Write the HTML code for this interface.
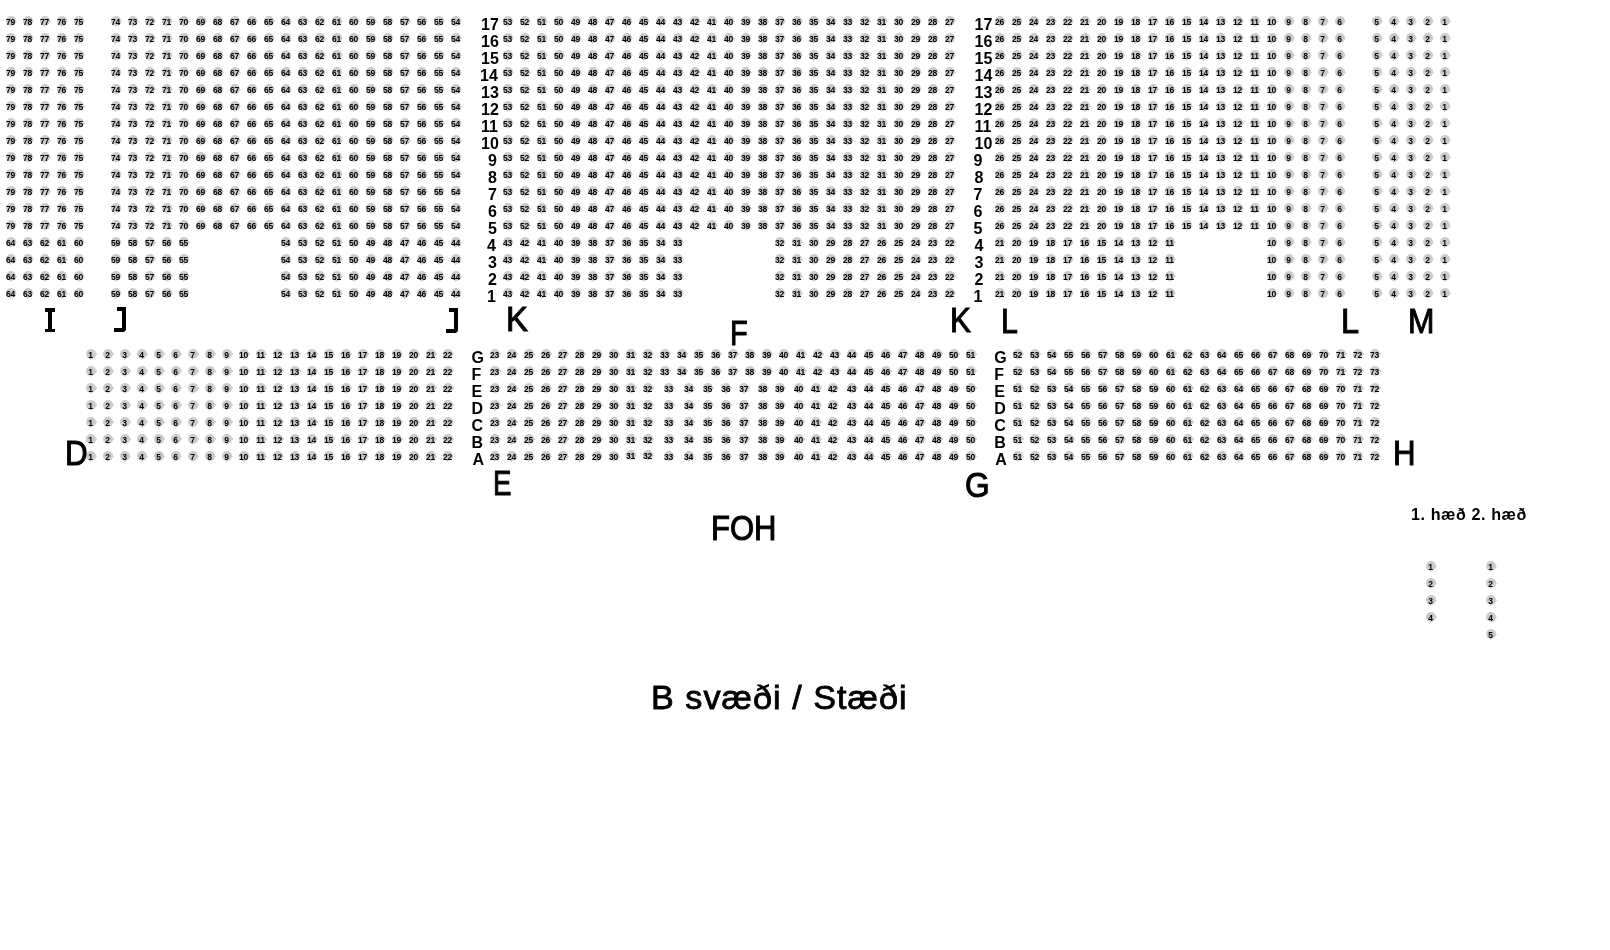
<!DOCTYPE html>
<html><head><meta charset="utf-8"><style>
html,body{margin:0;padding:0;background:#fff;width:1610px;height:950px;overflow:hidden;position:relative}
#w{position:absolute;left:0;top:0;width:1610px;height:950px;will-change:transform}
i{position:absolute;display:block;width:10px;height:10px;border-radius:50%;background:#cbcbcb;color:#000;font:bold 8.5px/12.3px "Liberation Sans",sans-serif;text-align:center;font-style:normal;letter-spacing:-0.3px;text-indent:-1.2px}
.t{position:absolute;font-family:"Liberation Sans",sans-serif;color:#000;white-space:nowrap;transform-origin:0 0}
.k{position:absolute;background:#000}
i:before,i:after{content:"";position:absolute;background:#d6d6d6}
i:before{left:4.2px;top:9.6px;width:1.2px;height:1.3px}
i:after{left:10px;top:4.75px;width:1px;height:1.3px}
.j{position:absolute;width:12px;height:25px;box-sizing:border-box;border-right:4px solid #000;border-bottom:4px solid #000;border-bottom-right-radius:4px}
</style></head><body><div id="w">
<i style="left:6.00px;top:15.85px">79</i><i style="left:23.00px;top:15.85px">78</i><i style="left:40.00px;top:15.85px">77</i><i style="left:57.00px;top:15.85px">76</i><i style="left:74.00px;top:15.85px">75</i><i style="left:111.00px;top:15.85px">74</i><i style="left:128.00px;top:15.85px">73</i><i style="left:145.00px;top:15.85px">72</i><i style="left:162.00px;top:15.85px">71</i><i style="left:179.00px;top:15.85px">70</i><i style="left:196.00px;top:15.85px">69</i><i style="left:213.00px;top:15.85px">68</i><i style="left:230.00px;top:15.85px">67</i><i style="left:247.00px;top:15.85px">66</i><i style="left:264.00px;top:15.85px">65</i><i style="left:281.00px;top:15.85px">64</i><i style="left:298.00px;top:15.85px">63</i><i style="left:315.00px;top:15.85px">62</i><i style="left:332.00px;top:15.85px">61</i><i style="left:349.00px;top:15.85px">60</i><i style="left:366.00px;top:15.85px">59</i><i style="left:383.00px;top:15.85px">58</i><i style="left:400.00px;top:15.85px">57</i><i style="left:417.00px;top:15.85px">56</i><i style="left:434.00px;top:15.85px">55</i><i style="left:451.00px;top:15.85px">54</i><i style="left:503.00px;top:15.85px">53</i><i style="left:520.00px;top:15.85px">52</i><i style="left:537.00px;top:15.85px">51</i><i style="left:554.00px;top:15.85px">50</i><i style="left:571.00px;top:15.85px">49</i><i style="left:588.00px;top:15.85px">48</i><i style="left:605.00px;top:15.85px">47</i><i style="left:622.00px;top:15.85px">46</i><i style="left:639.00px;top:15.85px">45</i><i style="left:656.00px;top:15.85px">44</i><i style="left:673.00px;top:15.85px">43</i><i style="left:690.00px;top:15.85px">42</i><i style="left:707.00px;top:15.85px">41</i><i style="left:724.00px;top:15.85px">40</i><i style="left:741.00px;top:15.85px">39</i><i style="left:758.00px;top:15.85px">38</i><i style="left:775.00px;top:15.85px">37</i><i style="left:792.00px;top:15.85px">36</i><i style="left:809.00px;top:15.85px">35</i><i style="left:826.00px;top:15.85px">34</i><i style="left:843.00px;top:15.85px">33</i><i style="left:860.00px;top:15.85px">32</i><i style="left:877.00px;top:15.85px">31</i><i style="left:894.00px;top:15.85px">30</i><i style="left:911.00px;top:15.85px">29</i><i style="left:928.00px;top:15.85px">28</i><i style="left:945.00px;top:15.85px">27</i><i style="left:995.00px;top:15.85px">26</i><i style="left:1012.00px;top:15.85px">25</i><i style="left:1029.00px;top:15.85px">24</i><i style="left:1046.00px;top:15.85px">23</i><i style="left:1063.00px;top:15.85px">22</i><i style="left:1080.00px;top:15.85px">21</i><i style="left:1097.00px;top:15.85px">20</i><i style="left:1114.00px;top:15.85px">19</i><i style="left:1131.00px;top:15.85px">18</i><i style="left:1148.00px;top:15.85px">17</i><i style="left:1165.00px;top:15.85px">16</i><i style="left:1182.00px;top:15.85px">15</i><i style="left:1199.00px;top:15.85px">14</i><i style="left:1216.00px;top:15.85px">13</i><i style="left:1233.00px;top:15.85px">12</i><i style="left:1250.00px;top:15.85px">11</i><i style="left:1267.00px;top:15.85px">10</i><i style="left:1284.00px;top:15.85px">9</i><i style="left:1301.00px;top:15.85px">8</i><i style="left:1318.00px;top:15.85px">7</i><i style="left:1335.00px;top:15.85px">6</i><i style="left:1372.00px;top:15.85px">5</i><i style="left:1389.00px;top:15.85px">4</i><i style="left:1406.00px;top:15.85px">3</i><i style="left:1423.00px;top:15.85px">2</i><i style="left:1440.00px;top:15.85px">1</i><i style="left:6.00px;top:32.85px">79</i><i style="left:23.00px;top:32.85px">78</i><i style="left:40.00px;top:32.85px">77</i><i style="left:57.00px;top:32.85px">76</i><i style="left:74.00px;top:32.85px">75</i><i style="left:111.00px;top:32.85px">74</i><i style="left:128.00px;top:32.85px">73</i><i style="left:145.00px;top:32.85px">72</i><i style="left:162.00px;top:32.85px">71</i><i style="left:179.00px;top:32.85px">70</i><i style="left:196.00px;top:32.85px">69</i><i style="left:213.00px;top:32.85px">68</i><i style="left:230.00px;top:32.85px">67</i><i style="left:247.00px;top:32.85px">66</i><i style="left:264.00px;top:32.85px">65</i><i style="left:281.00px;top:32.85px">64</i><i style="left:298.00px;top:32.85px">63</i><i style="left:315.00px;top:32.85px">62</i><i style="left:332.00px;top:32.85px">61</i><i style="left:349.00px;top:32.85px">60</i><i style="left:366.00px;top:32.85px">59</i><i style="left:383.00px;top:32.85px">58</i><i style="left:400.00px;top:32.85px">57</i><i style="left:417.00px;top:32.85px">56</i><i style="left:434.00px;top:32.85px">55</i><i style="left:451.00px;top:32.85px">54</i><i style="left:503.00px;top:32.85px">53</i><i style="left:520.00px;top:32.85px">52</i><i style="left:537.00px;top:32.85px">51</i><i style="left:554.00px;top:32.85px">50</i><i style="left:571.00px;top:32.85px">49</i><i style="left:588.00px;top:32.85px">48</i><i style="left:605.00px;top:32.85px">47</i><i style="left:622.00px;top:32.85px">46</i><i style="left:639.00px;top:32.85px">45</i><i style="left:656.00px;top:32.85px">44</i><i style="left:673.00px;top:32.85px">43</i><i style="left:690.00px;top:32.85px">42</i><i style="left:707.00px;top:32.85px">41</i><i style="left:724.00px;top:32.85px">40</i><i style="left:741.00px;top:32.85px">39</i><i style="left:758.00px;top:32.85px">38</i><i style="left:775.00px;top:32.85px">37</i><i style="left:792.00px;top:32.85px">36</i><i style="left:809.00px;top:32.85px">35</i><i style="left:826.00px;top:32.85px">34</i><i style="left:843.00px;top:32.85px">33</i><i style="left:860.00px;top:32.85px">32</i><i style="left:877.00px;top:32.85px">31</i><i style="left:894.00px;top:32.85px">30</i><i style="left:911.00px;top:32.85px">29</i><i style="left:928.00px;top:32.85px">28</i><i style="left:945.00px;top:32.85px">27</i><i style="left:995.00px;top:32.85px">26</i><i style="left:1012.00px;top:32.85px">25</i><i style="left:1029.00px;top:32.85px">24</i><i style="left:1046.00px;top:32.85px">23</i><i style="left:1063.00px;top:32.85px">22</i><i style="left:1080.00px;top:32.85px">21</i><i style="left:1097.00px;top:32.85px">20</i><i style="left:1114.00px;top:32.85px">19</i><i style="left:1131.00px;top:32.85px">18</i><i style="left:1148.00px;top:32.85px">17</i><i style="left:1165.00px;top:32.85px">16</i><i style="left:1182.00px;top:32.85px">15</i><i style="left:1199.00px;top:32.85px">14</i><i style="left:1216.00px;top:32.85px">13</i><i style="left:1233.00px;top:32.85px">12</i><i style="left:1250.00px;top:32.85px">11</i><i style="left:1267.00px;top:32.85px">10</i><i style="left:1284.00px;top:32.85px">9</i><i style="left:1301.00px;top:32.85px">8</i><i style="left:1318.00px;top:32.85px">7</i><i style="left:1335.00px;top:32.85px">6</i><i style="left:1372.00px;top:32.85px">5</i><i style="left:1389.00px;top:32.85px">4</i><i style="left:1406.00px;top:32.85px">3</i><i style="left:1423.00px;top:32.85px">2</i><i style="left:1440.00px;top:32.85px">1</i><i style="left:6.00px;top:49.85px">79</i><i style="left:23.00px;top:49.85px">78</i><i style="left:40.00px;top:49.85px">77</i><i style="left:57.00px;top:49.85px">76</i><i style="left:74.00px;top:49.85px">75</i><i style="left:111.00px;top:49.85px">74</i><i style="left:128.00px;top:49.85px">73</i><i style="left:145.00px;top:49.85px">72</i><i style="left:162.00px;top:49.85px">71</i><i style="left:179.00px;top:49.85px">70</i><i style="left:196.00px;top:49.85px">69</i><i style="left:213.00px;top:49.85px">68</i><i style="left:230.00px;top:49.85px">67</i><i style="left:247.00px;top:49.85px">66</i><i style="left:264.00px;top:49.85px">65</i><i style="left:281.00px;top:49.85px">64</i><i style="left:298.00px;top:49.85px">63</i><i style="left:315.00px;top:49.85px">62</i><i style="left:332.00px;top:49.85px">61</i><i style="left:349.00px;top:49.85px">60</i><i style="left:366.00px;top:49.85px">59</i><i style="left:383.00px;top:49.85px">58</i><i style="left:400.00px;top:49.85px">57</i><i style="left:417.00px;top:49.85px">56</i><i style="left:434.00px;top:49.85px">55</i><i style="left:451.00px;top:49.85px">54</i><i style="left:503.00px;top:49.85px">53</i><i style="left:520.00px;top:49.85px">52</i><i style="left:537.00px;top:49.85px">51</i><i style="left:554.00px;top:49.85px">50</i><i style="left:571.00px;top:49.85px">49</i><i style="left:588.00px;top:49.85px">48</i><i style="left:605.00px;top:49.85px">47</i><i style="left:622.00px;top:49.85px">46</i><i style="left:639.00px;top:49.85px">45</i><i style="left:656.00px;top:49.85px">44</i><i style="left:673.00px;top:49.85px">43</i><i style="left:690.00px;top:49.85px">42</i><i style="left:707.00px;top:49.85px">41</i><i style="left:724.00px;top:49.85px">40</i><i style="left:741.00px;top:49.85px">39</i><i style="left:758.00px;top:49.85px">38</i><i style="left:775.00px;top:49.85px">37</i><i style="left:792.00px;top:49.85px">36</i><i style="left:809.00px;top:49.85px">35</i><i style="left:826.00px;top:49.85px">34</i><i style="left:843.00px;top:49.85px">33</i><i style="left:860.00px;top:49.85px">32</i><i style="left:877.00px;top:49.85px">31</i><i style="left:894.00px;top:49.85px">30</i><i style="left:911.00px;top:49.85px">29</i><i style="left:928.00px;top:49.85px">28</i><i style="left:945.00px;top:49.85px">27</i><i style="left:995.00px;top:49.85px">26</i><i style="left:1012.00px;top:49.85px">25</i><i style="left:1029.00px;top:49.85px">24</i><i style="left:1046.00px;top:49.85px">23</i><i style="left:1063.00px;top:49.85px">22</i><i style="left:1080.00px;top:49.85px">21</i><i style="left:1097.00px;top:49.85px">20</i><i style="left:1114.00px;top:49.85px">19</i><i style="left:1131.00px;top:49.85px">18</i><i style="left:1148.00px;top:49.85px">17</i><i style="left:1165.00px;top:49.85px">16</i><i style="left:1182.00px;top:49.85px">15</i><i style="left:1199.00px;top:49.85px">14</i><i style="left:1216.00px;top:49.85px">13</i><i style="left:1233.00px;top:49.85px">12</i><i style="left:1250.00px;top:49.85px">11</i><i style="left:1267.00px;top:49.85px">10</i><i style="left:1284.00px;top:49.85px">9</i><i style="left:1301.00px;top:49.85px">8</i><i style="left:1318.00px;top:49.85px">7</i><i style="left:1335.00px;top:49.85px">6</i><i style="left:1372.00px;top:49.85px">5</i><i style="left:1389.00px;top:49.85px">4</i><i style="left:1406.00px;top:49.85px">3</i><i style="left:1423.00px;top:49.85px">2</i><i style="left:1440.00px;top:49.85px">1</i><i style="left:6.00px;top:66.85px">79</i><i style="left:23.00px;top:66.85px">78</i><i style="left:40.00px;top:66.85px">77</i><i style="left:57.00px;top:66.85px">76</i><i style="left:74.00px;top:66.85px">75</i><i style="left:111.00px;top:66.85px">74</i><i style="left:128.00px;top:66.85px">73</i><i style="left:145.00px;top:66.85px">72</i><i style="left:162.00px;top:66.85px">71</i><i style="left:179.00px;top:66.85px">70</i><i style="left:196.00px;top:66.85px">69</i><i style="left:213.00px;top:66.85px">68</i><i style="left:230.00px;top:66.85px">67</i><i style="left:247.00px;top:66.85px">66</i><i style="left:264.00px;top:66.85px">65</i><i style="left:281.00px;top:66.85px">64</i><i style="left:298.00px;top:66.85px">63</i><i style="left:315.00px;top:66.85px">62</i><i style="left:332.00px;top:66.85px">61</i><i style="left:349.00px;top:66.85px">60</i><i style="left:366.00px;top:66.85px">59</i><i style="left:383.00px;top:66.85px">58</i><i style="left:400.00px;top:66.85px">57</i><i style="left:417.00px;top:66.85px">56</i><i style="left:434.00px;top:66.85px">55</i><i style="left:451.00px;top:66.85px">54</i><i style="left:503.00px;top:66.85px">53</i><i style="left:520.00px;top:66.85px">52</i><i style="left:537.00px;top:66.85px">51</i><i style="left:554.00px;top:66.85px">50</i><i style="left:571.00px;top:66.85px">49</i><i style="left:588.00px;top:66.85px">48</i><i style="left:605.00px;top:66.85px">47</i><i style="left:622.00px;top:66.85px">46</i><i style="left:639.00px;top:66.85px">45</i><i style="left:656.00px;top:66.85px">44</i><i style="left:673.00px;top:66.85px">43</i><i style="left:690.00px;top:66.85px">42</i><i style="left:707.00px;top:66.85px">41</i><i style="left:724.00px;top:66.85px">40</i><i style="left:741.00px;top:66.85px">39</i><i style="left:758.00px;top:66.85px">38</i><i style="left:775.00px;top:66.85px">37</i><i style="left:792.00px;top:66.85px">36</i><i style="left:809.00px;top:66.85px">35</i><i style="left:826.00px;top:66.85px">34</i><i style="left:843.00px;top:66.85px">33</i><i style="left:860.00px;top:66.85px">32</i><i style="left:877.00px;top:66.85px">31</i><i style="left:894.00px;top:66.85px">30</i><i style="left:911.00px;top:66.85px">29</i><i style="left:928.00px;top:66.85px">28</i><i style="left:945.00px;top:66.85px">27</i><i style="left:995.00px;top:66.85px">26</i><i style="left:1012.00px;top:66.85px">25</i><i style="left:1029.00px;top:66.85px">24</i><i style="left:1046.00px;top:66.85px">23</i><i style="left:1063.00px;top:66.85px">22</i><i style="left:1080.00px;top:66.85px">21</i><i style="left:1097.00px;top:66.85px">20</i><i style="left:1114.00px;top:66.85px">19</i><i style="left:1131.00px;top:66.85px">18</i><i style="left:1148.00px;top:66.85px">17</i><i style="left:1165.00px;top:66.85px">16</i><i style="left:1182.00px;top:66.85px">15</i><i style="left:1199.00px;top:66.85px">14</i><i style="left:1216.00px;top:66.85px">13</i><i style="left:1233.00px;top:66.85px">12</i><i style="left:1250.00px;top:66.85px">11</i><i style="left:1267.00px;top:66.85px">10</i><i style="left:1284.00px;top:66.85px">9</i><i style="left:1301.00px;top:66.85px">8</i><i style="left:1318.00px;top:66.85px">7</i><i style="left:1335.00px;top:66.85px">6</i><i style="left:1372.00px;top:66.85px">5</i><i style="left:1389.00px;top:66.85px">4</i><i style="left:1406.00px;top:66.85px">3</i><i style="left:1423.00px;top:66.85px">2</i><i style="left:1440.00px;top:66.85px">1</i><i style="left:6.00px;top:83.85px">79</i><i style="left:23.00px;top:83.85px">78</i><i style="left:40.00px;top:83.85px">77</i><i style="left:57.00px;top:83.85px">76</i><i style="left:74.00px;top:83.85px">75</i><i style="left:111.00px;top:83.85px">74</i><i style="left:128.00px;top:83.85px">73</i><i style="left:145.00px;top:83.85px">72</i><i style="left:162.00px;top:83.85px">71</i><i style="left:179.00px;top:83.85px">70</i><i style="left:196.00px;top:83.85px">69</i><i style="left:213.00px;top:83.85px">68</i><i style="left:230.00px;top:83.85px">67</i><i style="left:247.00px;top:83.85px">66</i><i style="left:264.00px;top:83.85px">65</i><i style="left:281.00px;top:83.85px">64</i><i style="left:298.00px;top:83.85px">63</i><i style="left:315.00px;top:83.85px">62</i><i style="left:332.00px;top:83.85px">61</i><i style="left:349.00px;top:83.85px">60</i><i style="left:366.00px;top:83.85px">59</i><i style="left:383.00px;top:83.85px">58</i><i style="left:400.00px;top:83.85px">57</i><i style="left:417.00px;top:83.85px">56</i><i style="left:434.00px;top:83.85px">55</i><i style="left:451.00px;top:83.85px">54</i><i style="left:503.00px;top:83.85px">53</i><i style="left:520.00px;top:83.85px">52</i><i style="left:537.00px;top:83.85px">51</i><i style="left:554.00px;top:83.85px">50</i><i style="left:571.00px;top:83.85px">49</i><i style="left:588.00px;top:83.85px">48</i><i style="left:605.00px;top:83.85px">47</i><i style="left:622.00px;top:83.85px">46</i><i style="left:639.00px;top:83.85px">45</i><i style="left:656.00px;top:83.85px">44</i><i style="left:673.00px;top:83.85px">43</i><i style="left:690.00px;top:83.85px">42</i><i style="left:707.00px;top:83.85px">41</i><i style="left:724.00px;top:83.85px">40</i><i style="left:741.00px;top:83.85px">39</i><i style="left:758.00px;top:83.85px">38</i><i style="left:775.00px;top:83.85px">37</i><i style="left:792.00px;top:83.85px">36</i><i style="left:809.00px;top:83.85px">35</i><i style="left:826.00px;top:83.85px">34</i><i style="left:843.00px;top:83.85px">33</i><i style="left:860.00px;top:83.85px">32</i><i style="left:877.00px;top:83.85px">31</i><i style="left:894.00px;top:83.85px">30</i><i style="left:911.00px;top:83.85px">29</i><i style="left:928.00px;top:83.85px">28</i><i style="left:945.00px;top:83.85px">27</i><i style="left:995.00px;top:83.85px">26</i><i style="left:1012.00px;top:83.85px">25</i><i style="left:1029.00px;top:83.85px">24</i><i style="left:1046.00px;top:83.85px">23</i><i style="left:1063.00px;top:83.85px">22</i><i style="left:1080.00px;top:83.85px">21</i><i style="left:1097.00px;top:83.85px">20</i><i style="left:1114.00px;top:83.85px">19</i><i style="left:1131.00px;top:83.85px">18</i><i style="left:1148.00px;top:83.85px">17</i><i style="left:1165.00px;top:83.85px">16</i><i style="left:1182.00px;top:83.85px">15</i><i style="left:1199.00px;top:83.85px">14</i><i style="left:1216.00px;top:83.85px">13</i><i style="left:1233.00px;top:83.85px">12</i><i style="left:1250.00px;top:83.85px">11</i><i style="left:1267.00px;top:83.85px">10</i><i style="left:1284.00px;top:83.85px">9</i><i style="left:1301.00px;top:83.85px">8</i><i style="left:1318.00px;top:83.85px">7</i><i style="left:1335.00px;top:83.85px">6</i><i style="left:1372.00px;top:83.85px">5</i><i style="left:1389.00px;top:83.85px">4</i><i style="left:1406.00px;top:83.85px">3</i><i style="left:1423.00px;top:83.85px">2</i><i style="left:1440.00px;top:83.85px">1</i><i style="left:6.00px;top:100.85px">79</i><i style="left:23.00px;top:100.85px">78</i><i style="left:40.00px;top:100.85px">77</i><i style="left:57.00px;top:100.85px">76</i><i style="left:74.00px;top:100.85px">75</i><i style="left:111.00px;top:100.85px">74</i><i style="left:128.00px;top:100.85px">73</i><i style="left:145.00px;top:100.85px">72</i><i style="left:162.00px;top:100.85px">71</i><i style="left:179.00px;top:100.85px">70</i><i style="left:196.00px;top:100.85px">69</i><i style="left:213.00px;top:100.85px">68</i><i style="left:230.00px;top:100.85px">67</i><i style="left:247.00px;top:100.85px">66</i><i style="left:264.00px;top:100.85px">65</i><i style="left:281.00px;top:100.85px">64</i><i style="left:298.00px;top:100.85px">63</i><i style="left:315.00px;top:100.85px">62</i><i style="left:332.00px;top:100.85px">61</i><i style="left:349.00px;top:100.85px">60</i><i style="left:366.00px;top:100.85px">59</i><i style="left:383.00px;top:100.85px">58</i><i style="left:400.00px;top:100.85px">57</i><i style="left:417.00px;top:100.85px">56</i><i style="left:434.00px;top:100.85px">55</i><i style="left:451.00px;top:100.85px">54</i><i style="left:503.00px;top:100.85px">53</i><i style="left:520.00px;top:100.85px">52</i><i style="left:537.00px;top:100.85px">51</i><i style="left:554.00px;top:100.85px">50</i><i style="left:571.00px;top:100.85px">49</i><i style="left:588.00px;top:100.85px">48</i><i style="left:605.00px;top:100.85px">47</i><i style="left:622.00px;top:100.85px">46</i><i style="left:639.00px;top:100.85px">45</i><i style="left:656.00px;top:100.85px">44</i><i style="left:673.00px;top:100.85px">43</i><i style="left:690.00px;top:100.85px">42</i><i style="left:707.00px;top:100.85px">41</i><i style="left:724.00px;top:100.85px">40</i><i style="left:741.00px;top:100.85px">39</i><i style="left:758.00px;top:100.85px">38</i><i style="left:775.00px;top:100.85px">37</i><i style="left:792.00px;top:100.85px">36</i><i style="left:809.00px;top:100.85px">35</i><i style="left:826.00px;top:100.85px">34</i><i style="left:843.00px;top:100.85px">33</i><i style="left:860.00px;top:100.85px">32</i><i style="left:877.00px;top:100.85px">31</i><i style="left:894.00px;top:100.85px">30</i><i style="left:911.00px;top:100.85px">29</i><i style="left:928.00px;top:100.85px">28</i><i style="left:945.00px;top:100.85px">27</i><i style="left:995.00px;top:100.85px">26</i><i style="left:1012.00px;top:100.85px">25</i><i style="left:1029.00px;top:100.85px">24</i><i style="left:1046.00px;top:100.85px">23</i><i style="left:1063.00px;top:100.85px">22</i><i style="left:1080.00px;top:100.85px">21</i><i style="left:1097.00px;top:100.85px">20</i><i style="left:1114.00px;top:100.85px">19</i><i style="left:1131.00px;top:100.85px">18</i><i style="left:1148.00px;top:100.85px">17</i><i style="left:1165.00px;top:100.85px">16</i><i style="left:1182.00px;top:100.85px">15</i><i style="left:1199.00px;top:100.85px">14</i><i style="left:1216.00px;top:100.85px">13</i><i style="left:1233.00px;top:100.85px">12</i><i style="left:1250.00px;top:100.85px">11</i><i style="left:1267.00px;top:100.85px">10</i><i style="left:1284.00px;top:100.85px">9</i><i style="left:1301.00px;top:100.85px">8</i><i style="left:1318.00px;top:100.85px">7</i><i style="left:1335.00px;top:100.85px">6</i><i style="left:1372.00px;top:100.85px">5</i><i style="left:1389.00px;top:100.85px">4</i><i style="left:1406.00px;top:100.85px">3</i><i style="left:1423.00px;top:100.85px">2</i><i style="left:1440.00px;top:100.85px">1</i><i style="left:6.00px;top:117.85px">79</i><i style="left:23.00px;top:117.85px">78</i><i style="left:40.00px;top:117.85px">77</i><i style="left:57.00px;top:117.85px">76</i><i style="left:74.00px;top:117.85px">75</i><i style="left:111.00px;top:117.85px">74</i><i style="left:128.00px;top:117.85px">73</i><i style="left:145.00px;top:117.85px">72</i><i style="left:162.00px;top:117.85px">71</i><i style="left:179.00px;top:117.85px">70</i><i style="left:196.00px;top:117.85px">69</i><i style="left:213.00px;top:117.85px">68</i><i style="left:230.00px;top:117.85px">67</i><i style="left:247.00px;top:117.85px">66</i><i style="left:264.00px;top:117.85px">65</i><i style="left:281.00px;top:117.85px">64</i><i style="left:298.00px;top:117.85px">63</i><i style="left:315.00px;top:117.85px">62</i><i style="left:332.00px;top:117.85px">61</i><i style="left:349.00px;top:117.85px">60</i><i style="left:366.00px;top:117.85px">59</i><i style="left:383.00px;top:117.85px">58</i><i style="left:400.00px;top:117.85px">57</i><i style="left:417.00px;top:117.85px">56</i><i style="left:434.00px;top:117.85px">55</i><i style="left:451.00px;top:117.85px">54</i><i style="left:503.00px;top:117.85px">53</i><i style="left:520.00px;top:117.85px">52</i><i style="left:537.00px;top:117.85px">51</i><i style="left:554.00px;top:117.85px">50</i><i style="left:571.00px;top:117.85px">49</i><i style="left:588.00px;top:117.85px">48</i><i style="left:605.00px;top:117.85px">47</i><i style="left:622.00px;top:117.85px">46</i><i style="left:639.00px;top:117.85px">45</i><i style="left:656.00px;top:117.85px">44</i><i style="left:673.00px;top:117.85px">43</i><i style="left:690.00px;top:117.85px">42</i><i style="left:707.00px;top:117.85px">41</i><i style="left:724.00px;top:117.85px">40</i><i style="left:741.00px;top:117.85px">39</i><i style="left:758.00px;top:117.85px">38</i><i style="left:775.00px;top:117.85px">37</i><i style="left:792.00px;top:117.85px">36</i><i style="left:809.00px;top:117.85px">35</i><i style="left:826.00px;top:117.85px">34</i><i style="left:843.00px;top:117.85px">33</i><i style="left:860.00px;top:117.85px">32</i><i style="left:877.00px;top:117.85px">31</i><i style="left:894.00px;top:117.85px">30</i><i style="left:911.00px;top:117.85px">29</i><i style="left:928.00px;top:117.85px">28</i><i style="left:945.00px;top:117.85px">27</i><i style="left:995.00px;top:117.85px">26</i><i style="left:1012.00px;top:117.85px">25</i><i style="left:1029.00px;top:117.85px">24</i><i style="left:1046.00px;top:117.85px">23</i><i style="left:1063.00px;top:117.85px">22</i><i style="left:1080.00px;top:117.85px">21</i><i style="left:1097.00px;top:117.85px">20</i><i style="left:1114.00px;top:117.85px">19</i><i style="left:1131.00px;top:117.85px">18</i><i style="left:1148.00px;top:117.85px">17</i><i style="left:1165.00px;top:117.85px">16</i><i style="left:1182.00px;top:117.85px">15</i><i style="left:1199.00px;top:117.85px">14</i><i style="left:1216.00px;top:117.85px">13</i><i style="left:1233.00px;top:117.85px">12</i><i style="left:1250.00px;top:117.85px">11</i><i style="left:1267.00px;top:117.85px">10</i><i style="left:1284.00px;top:117.85px">9</i><i style="left:1301.00px;top:117.85px">8</i><i style="left:1318.00px;top:117.85px">7</i><i style="left:1335.00px;top:117.85px">6</i><i style="left:1372.00px;top:117.85px">5</i><i style="left:1389.00px;top:117.85px">4</i><i style="left:1406.00px;top:117.85px">3</i><i style="left:1423.00px;top:117.85px">2</i><i style="left:1440.00px;top:117.85px">1</i><i style="left:6.00px;top:134.85px">79</i><i style="left:23.00px;top:134.85px">78</i><i style="left:40.00px;top:134.85px">77</i><i style="left:57.00px;top:134.85px">76</i><i style="left:74.00px;top:134.85px">75</i><i style="left:111.00px;top:134.85px">74</i><i style="left:128.00px;top:134.85px">73</i><i style="left:145.00px;top:134.85px">72</i><i style="left:162.00px;top:134.85px">71</i><i style="left:179.00px;top:134.85px">70</i><i style="left:196.00px;top:134.85px">69</i><i style="left:213.00px;top:134.85px">68</i><i style="left:230.00px;top:134.85px">67</i><i style="left:247.00px;top:134.85px">66</i><i style="left:264.00px;top:134.85px">65</i><i style="left:281.00px;top:134.85px">64</i><i style="left:298.00px;top:134.85px">63</i><i style="left:315.00px;top:134.85px">62</i><i style="left:332.00px;top:134.85px">61</i><i style="left:349.00px;top:134.85px">60</i><i style="left:366.00px;top:134.85px">59</i><i style="left:383.00px;top:134.85px">58</i><i style="left:400.00px;top:134.85px">57</i><i style="left:417.00px;top:134.85px">56</i><i style="left:434.00px;top:134.85px">55</i><i style="left:451.00px;top:134.85px">54</i><i style="left:503.00px;top:134.85px">53</i><i style="left:520.00px;top:134.85px">52</i><i style="left:537.00px;top:134.85px">51</i><i style="left:554.00px;top:134.85px">50</i><i style="left:571.00px;top:134.85px">49</i><i style="left:588.00px;top:134.85px">48</i><i style="left:605.00px;top:134.85px">47</i><i style="left:622.00px;top:134.85px">46</i><i style="left:639.00px;top:134.85px">45</i><i style="left:656.00px;top:134.85px">44</i><i style="left:673.00px;top:134.85px">43</i><i style="left:690.00px;top:134.85px">42</i><i style="left:707.00px;top:134.85px">41</i><i style="left:724.00px;top:134.85px">40</i><i style="left:741.00px;top:134.85px">39</i><i style="left:758.00px;top:134.85px">38</i><i style="left:775.00px;top:134.85px">37</i><i style="left:792.00px;top:134.85px">36</i><i style="left:809.00px;top:134.85px">35</i><i style="left:826.00px;top:134.85px">34</i><i style="left:843.00px;top:134.85px">33</i><i style="left:860.00px;top:134.85px">32</i><i style="left:877.00px;top:134.85px">31</i><i style="left:894.00px;top:134.85px">30</i><i style="left:911.00px;top:134.85px">29</i><i style="left:928.00px;top:134.85px">28</i><i style="left:945.00px;top:134.85px">27</i><i style="left:995.00px;top:134.85px">26</i><i style="left:1012.00px;top:134.85px">25</i><i style="left:1029.00px;top:134.85px">24</i><i style="left:1046.00px;top:134.85px">23</i><i style="left:1063.00px;top:134.85px">22</i><i style="left:1080.00px;top:134.85px">21</i><i style="left:1097.00px;top:134.85px">20</i><i style="left:1114.00px;top:134.85px">19</i><i style="left:1131.00px;top:134.85px">18</i><i style="left:1148.00px;top:134.85px">17</i><i style="left:1165.00px;top:134.85px">16</i><i style="left:1182.00px;top:134.85px">15</i><i style="left:1199.00px;top:134.85px">14</i><i style="left:1216.00px;top:134.85px">13</i><i style="left:1233.00px;top:134.85px">12</i><i style="left:1250.00px;top:134.85px">11</i><i style="left:1267.00px;top:134.85px">10</i><i style="left:1284.00px;top:134.85px">9</i><i style="left:1301.00px;top:134.85px">8</i><i style="left:1318.00px;top:134.85px">7</i><i style="left:1335.00px;top:134.85px">6</i><i style="left:1372.00px;top:134.85px">5</i><i style="left:1389.00px;top:134.85px">4</i><i style="left:1406.00px;top:134.85px">3</i><i style="left:1423.00px;top:134.85px">2</i><i style="left:1440.00px;top:134.85px">1</i><i style="left:6.00px;top:151.85px">79</i><i style="left:23.00px;top:151.85px">78</i><i style="left:40.00px;top:151.85px">77</i><i style="left:57.00px;top:151.85px">76</i><i style="left:74.00px;top:151.85px">75</i><i style="left:111.00px;top:151.85px">74</i><i style="left:128.00px;top:151.85px">73</i><i style="left:145.00px;top:151.85px">72</i><i style="left:162.00px;top:151.85px">71</i><i style="left:179.00px;top:151.85px">70</i><i style="left:196.00px;top:151.85px">69</i><i style="left:213.00px;top:151.85px">68</i><i style="left:230.00px;top:151.85px">67</i><i style="left:247.00px;top:151.85px">66</i><i style="left:264.00px;top:151.85px">65</i><i style="left:281.00px;top:151.85px">64</i><i style="left:298.00px;top:151.85px">63</i><i style="left:315.00px;top:151.85px">62</i><i style="left:332.00px;top:151.85px">61</i><i style="left:349.00px;top:151.85px">60</i><i style="left:366.00px;top:151.85px">59</i><i style="left:383.00px;top:151.85px">58</i><i style="left:400.00px;top:151.85px">57</i><i style="left:417.00px;top:151.85px">56</i><i style="left:434.00px;top:151.85px">55</i><i style="left:451.00px;top:151.85px">54</i><i style="left:503.00px;top:151.85px">53</i><i style="left:520.00px;top:151.85px">52</i><i style="left:537.00px;top:151.85px">51</i><i style="left:554.00px;top:151.85px">50</i><i style="left:571.00px;top:151.85px">49</i><i style="left:588.00px;top:151.85px">48</i><i style="left:605.00px;top:151.85px">47</i><i style="left:622.00px;top:151.85px">46</i><i style="left:639.00px;top:151.85px">45</i><i style="left:656.00px;top:151.85px">44</i><i style="left:673.00px;top:151.85px">43</i><i style="left:690.00px;top:151.85px">42</i><i style="left:707.00px;top:151.85px">41</i><i style="left:724.00px;top:151.85px">40</i><i style="left:741.00px;top:151.85px">39</i><i style="left:758.00px;top:151.85px">38</i><i style="left:775.00px;top:151.85px">37</i><i style="left:792.00px;top:151.85px">36</i><i style="left:809.00px;top:151.85px">35</i><i style="left:826.00px;top:151.85px">34</i><i style="left:843.00px;top:151.85px">33</i><i style="left:860.00px;top:151.85px">32</i><i style="left:877.00px;top:151.85px">31</i><i style="left:894.00px;top:151.85px">30</i><i style="left:911.00px;top:151.85px">29</i><i style="left:928.00px;top:151.85px">28</i><i style="left:945.00px;top:151.85px">27</i><i style="left:995.00px;top:151.85px">26</i><i style="left:1012.00px;top:151.85px">25</i><i style="left:1029.00px;top:151.85px">24</i><i style="left:1046.00px;top:151.85px">23</i><i style="left:1063.00px;top:151.85px">22</i><i style="left:1080.00px;top:151.85px">21</i><i style="left:1097.00px;top:151.85px">20</i><i style="left:1114.00px;top:151.85px">19</i><i style="left:1131.00px;top:151.85px">18</i><i style="left:1148.00px;top:151.85px">17</i><i style="left:1165.00px;top:151.85px">16</i><i style="left:1182.00px;top:151.85px">15</i><i style="left:1199.00px;top:151.85px">14</i><i style="left:1216.00px;top:151.85px">13</i><i style="left:1233.00px;top:151.85px">12</i><i style="left:1250.00px;top:151.85px">11</i><i style="left:1267.00px;top:151.85px">10</i><i style="left:1284.00px;top:151.85px">9</i><i style="left:1301.00px;top:151.85px">8</i><i style="left:1318.00px;top:151.85px">7</i><i style="left:1335.00px;top:151.85px">6</i><i style="left:1372.00px;top:151.85px">5</i><i style="left:1389.00px;top:151.85px">4</i><i style="left:1406.00px;top:151.85px">3</i><i style="left:1423.00px;top:151.85px">2</i><i style="left:1440.00px;top:151.85px">1</i><i style="left:6.00px;top:168.85px">79</i><i style="left:23.00px;top:168.85px">78</i><i style="left:40.00px;top:168.85px">77</i><i style="left:57.00px;top:168.85px">76</i><i style="left:74.00px;top:168.85px">75</i><i style="left:111.00px;top:168.85px">74</i><i style="left:128.00px;top:168.85px">73</i><i style="left:145.00px;top:168.85px">72</i><i style="left:162.00px;top:168.85px">71</i><i style="left:179.00px;top:168.85px">70</i><i style="left:196.00px;top:168.85px">69</i><i style="left:213.00px;top:168.85px">68</i><i style="left:230.00px;top:168.85px">67</i><i style="left:247.00px;top:168.85px">66</i><i style="left:264.00px;top:168.85px">65</i><i style="left:281.00px;top:168.85px">64</i><i style="left:298.00px;top:168.85px">63</i><i style="left:315.00px;top:168.85px">62</i><i style="left:332.00px;top:168.85px">61</i><i style="left:349.00px;top:168.85px">60</i><i style="left:366.00px;top:168.85px">59</i><i style="left:383.00px;top:168.85px">58</i><i style="left:400.00px;top:168.85px">57</i><i style="left:417.00px;top:168.85px">56</i><i style="left:434.00px;top:168.85px">55</i><i style="left:451.00px;top:168.85px">54</i><i style="left:503.00px;top:168.85px">53</i><i style="left:520.00px;top:168.85px">52</i><i style="left:537.00px;top:168.85px">51</i><i style="left:554.00px;top:168.85px">50</i><i style="left:571.00px;top:168.85px">49</i><i style="left:588.00px;top:168.85px">48</i><i style="left:605.00px;top:168.85px">47</i><i style="left:622.00px;top:168.85px">46</i><i style="left:639.00px;top:168.85px">45</i><i style="left:656.00px;top:168.85px">44</i><i style="left:673.00px;top:168.85px">43</i><i style="left:690.00px;top:168.85px">42</i><i style="left:707.00px;top:168.85px">41</i><i style="left:724.00px;top:168.85px">40</i><i style="left:741.00px;top:168.85px">39</i><i style="left:758.00px;top:168.85px">38</i><i style="left:775.00px;top:168.85px">37</i><i style="left:792.00px;top:168.85px">36</i><i style="left:809.00px;top:168.85px">35</i><i style="left:826.00px;top:168.85px">34</i><i style="left:843.00px;top:168.85px">33</i><i style="left:860.00px;top:168.85px">32</i><i style="left:877.00px;top:168.85px">31</i><i style="left:894.00px;top:168.85px">30</i><i style="left:911.00px;top:168.85px">29</i><i style="left:928.00px;top:168.85px">28</i><i style="left:945.00px;top:168.85px">27</i><i style="left:995.00px;top:168.85px">26</i><i style="left:1012.00px;top:168.85px">25</i><i style="left:1029.00px;top:168.85px">24</i><i style="left:1046.00px;top:168.85px">23</i><i style="left:1063.00px;top:168.85px">22</i><i style="left:1080.00px;top:168.85px">21</i><i style="left:1097.00px;top:168.85px">20</i><i style="left:1114.00px;top:168.85px">19</i><i style="left:1131.00px;top:168.85px">18</i><i style="left:1148.00px;top:168.85px">17</i><i style="left:1165.00px;top:168.85px">16</i><i style="left:1182.00px;top:168.85px">15</i><i style="left:1199.00px;top:168.85px">14</i><i style="left:1216.00px;top:168.85px">13</i><i style="left:1233.00px;top:168.85px">12</i><i style="left:1250.00px;top:168.85px">11</i><i style="left:1267.00px;top:168.85px">10</i><i style="left:1284.00px;top:168.85px">9</i><i style="left:1301.00px;top:168.85px">8</i><i style="left:1318.00px;top:168.85px">7</i><i style="left:1335.00px;top:168.85px">6</i><i style="left:1372.00px;top:168.85px">5</i><i style="left:1389.00px;top:168.85px">4</i><i style="left:1406.00px;top:168.85px">3</i><i style="left:1423.00px;top:168.85px">2</i><i style="left:1440.00px;top:168.85px">1</i><i style="left:6.00px;top:185.85px">79</i><i style="left:23.00px;top:185.85px">78</i><i style="left:40.00px;top:185.85px">77</i><i style="left:57.00px;top:185.85px">76</i><i style="left:74.00px;top:185.85px">75</i><i style="left:111.00px;top:185.85px">74</i><i style="left:128.00px;top:185.85px">73</i><i style="left:145.00px;top:185.85px">72</i><i style="left:162.00px;top:185.85px">71</i><i style="left:179.00px;top:185.85px">70</i><i style="left:196.00px;top:185.85px">69</i><i style="left:213.00px;top:185.85px">68</i><i style="left:230.00px;top:185.85px">67</i><i style="left:247.00px;top:185.85px">66</i><i style="left:264.00px;top:185.85px">65</i><i style="left:281.00px;top:185.85px">64</i><i style="left:298.00px;top:185.85px">63</i><i style="left:315.00px;top:185.85px">62</i><i style="left:332.00px;top:185.85px">61</i><i style="left:349.00px;top:185.85px">60</i><i style="left:366.00px;top:185.85px">59</i><i style="left:383.00px;top:185.85px">58</i><i style="left:400.00px;top:185.85px">57</i><i style="left:417.00px;top:185.85px">56</i><i style="left:434.00px;top:185.85px">55</i><i style="left:451.00px;top:185.85px">54</i><i style="left:503.00px;top:185.85px">53</i><i style="left:520.00px;top:185.85px">52</i><i style="left:537.00px;top:185.85px">51</i><i style="left:554.00px;top:185.85px">50</i><i style="left:571.00px;top:185.85px">49</i><i style="left:588.00px;top:185.85px">48</i><i style="left:605.00px;top:185.85px">47</i><i style="left:622.00px;top:185.85px">46</i><i style="left:639.00px;top:185.85px">45</i><i style="left:656.00px;top:185.85px">44</i><i style="left:673.00px;top:185.85px">43</i><i style="left:690.00px;top:185.85px">42</i><i style="left:707.00px;top:185.85px">41</i><i style="left:724.00px;top:185.85px">40</i><i style="left:741.00px;top:185.85px">39</i><i style="left:758.00px;top:185.85px">38</i><i style="left:775.00px;top:185.85px">37</i><i style="left:792.00px;top:185.85px">36</i><i style="left:809.00px;top:185.85px">35</i><i style="left:826.00px;top:185.85px">34</i><i style="left:843.00px;top:185.85px">33</i><i style="left:860.00px;top:185.85px">32</i><i style="left:877.00px;top:185.85px">31</i><i style="left:894.00px;top:185.85px">30</i><i style="left:911.00px;top:185.85px">29</i><i style="left:928.00px;top:185.85px">28</i><i style="left:945.00px;top:185.85px">27</i><i style="left:995.00px;top:185.85px">26</i><i style="left:1012.00px;top:185.85px">25</i><i style="left:1029.00px;top:185.85px">24</i><i style="left:1046.00px;top:185.85px">23</i><i style="left:1063.00px;top:185.85px">22</i><i style="left:1080.00px;top:185.85px">21</i><i style="left:1097.00px;top:185.85px">20</i><i style="left:1114.00px;top:185.85px">19</i><i style="left:1131.00px;top:185.85px">18</i><i style="left:1148.00px;top:185.85px">17</i><i style="left:1165.00px;top:185.85px">16</i><i style="left:1182.00px;top:185.85px">15</i><i style="left:1199.00px;top:185.85px">14</i><i style="left:1216.00px;top:185.85px">13</i><i style="left:1233.00px;top:185.85px">12</i><i style="left:1250.00px;top:185.85px">11</i><i style="left:1267.00px;top:185.85px">10</i><i style="left:1284.00px;top:185.85px">9</i><i style="left:1301.00px;top:185.85px">8</i><i style="left:1318.00px;top:185.85px">7</i><i style="left:1335.00px;top:185.85px">6</i><i style="left:1372.00px;top:185.85px">5</i><i style="left:1389.00px;top:185.85px">4</i><i style="left:1406.00px;top:185.85px">3</i><i style="left:1423.00px;top:185.85px">2</i><i style="left:1440.00px;top:185.85px">1</i><i style="left:6.00px;top:202.85px">79</i><i style="left:23.00px;top:202.85px">78</i><i style="left:40.00px;top:202.85px">77</i><i style="left:57.00px;top:202.85px">76</i><i style="left:74.00px;top:202.85px">75</i><i style="left:111.00px;top:202.85px">74</i><i style="left:128.00px;top:202.85px">73</i><i style="left:145.00px;top:202.85px">72</i><i style="left:162.00px;top:202.85px">71</i><i style="left:179.00px;top:202.85px">70</i><i style="left:196.00px;top:202.85px">69</i><i style="left:213.00px;top:202.85px">68</i><i style="left:230.00px;top:202.85px">67</i><i style="left:247.00px;top:202.85px">66</i><i style="left:264.00px;top:202.85px">65</i><i style="left:281.00px;top:202.85px">64</i><i style="left:298.00px;top:202.85px">63</i><i style="left:315.00px;top:202.85px">62</i><i style="left:332.00px;top:202.85px">61</i><i style="left:349.00px;top:202.85px">60</i><i style="left:366.00px;top:202.85px">59</i><i style="left:383.00px;top:202.85px">58</i><i style="left:400.00px;top:202.85px">57</i><i style="left:417.00px;top:202.85px">56</i><i style="left:434.00px;top:202.85px">55</i><i style="left:451.00px;top:202.85px">54</i><i style="left:503.00px;top:202.85px">53</i><i style="left:520.00px;top:202.85px">52</i><i style="left:537.00px;top:202.85px">51</i><i style="left:554.00px;top:202.85px">50</i><i style="left:571.00px;top:202.85px">49</i><i style="left:588.00px;top:202.85px">48</i><i style="left:605.00px;top:202.85px">47</i><i style="left:622.00px;top:202.85px">46</i><i style="left:639.00px;top:202.85px">45</i><i style="left:656.00px;top:202.85px">44</i><i style="left:673.00px;top:202.85px">43</i><i style="left:690.00px;top:202.85px">42</i><i style="left:707.00px;top:202.85px">41</i><i style="left:724.00px;top:202.85px">40</i><i style="left:741.00px;top:202.85px">39</i><i style="left:758.00px;top:202.85px">38</i><i style="left:775.00px;top:202.85px">37</i><i style="left:792.00px;top:202.85px">36</i><i style="left:809.00px;top:202.85px">35</i><i style="left:826.00px;top:202.85px">34</i><i style="left:843.00px;top:202.85px">33</i><i style="left:860.00px;top:202.85px">32</i><i style="left:877.00px;top:202.85px">31</i><i style="left:894.00px;top:202.85px">30</i><i style="left:911.00px;top:202.85px">29</i><i style="left:928.00px;top:202.85px">28</i><i style="left:945.00px;top:202.85px">27</i><i style="left:995.00px;top:202.85px">26</i><i style="left:1012.00px;top:202.85px">25</i><i style="left:1029.00px;top:202.85px">24</i><i style="left:1046.00px;top:202.85px">23</i><i style="left:1063.00px;top:202.85px">22</i><i style="left:1080.00px;top:202.85px">21</i><i style="left:1097.00px;top:202.85px">20</i><i style="left:1114.00px;top:202.85px">19</i><i style="left:1131.00px;top:202.85px">18</i><i style="left:1148.00px;top:202.85px">17</i><i style="left:1165.00px;top:202.85px">16</i><i style="left:1182.00px;top:202.85px">15</i><i style="left:1199.00px;top:202.85px">14</i><i style="left:1216.00px;top:202.85px">13</i><i style="left:1233.00px;top:202.85px">12</i><i style="left:1250.00px;top:202.85px">11</i><i style="left:1267.00px;top:202.85px">10</i><i style="left:1284.00px;top:202.85px">9</i><i style="left:1301.00px;top:202.85px">8</i><i style="left:1318.00px;top:202.85px">7</i><i style="left:1335.00px;top:202.85px">6</i><i style="left:1372.00px;top:202.85px">5</i><i style="left:1389.00px;top:202.85px">4</i><i style="left:1406.00px;top:202.85px">3</i><i style="left:1423.00px;top:202.85px">2</i><i style="left:1440.00px;top:202.85px">1</i><i style="left:6.00px;top:219.85px">79</i><i style="left:23.00px;top:219.85px">78</i><i style="left:40.00px;top:219.85px">77</i><i style="left:57.00px;top:219.85px">76</i><i style="left:74.00px;top:219.85px">75</i><i style="left:111.00px;top:219.85px">74</i><i style="left:128.00px;top:219.85px">73</i><i style="left:145.00px;top:219.85px">72</i><i style="left:162.00px;top:219.85px">71</i><i style="left:179.00px;top:219.85px">70</i><i style="left:196.00px;top:219.85px">69</i><i style="left:213.00px;top:219.85px">68</i><i style="left:230.00px;top:219.85px">67</i><i style="left:247.00px;top:219.85px">66</i><i style="left:264.00px;top:219.85px">65</i><i style="left:281.00px;top:219.85px">64</i><i style="left:298.00px;top:219.85px">63</i><i style="left:315.00px;top:219.85px">62</i><i style="left:332.00px;top:219.85px">61</i><i style="left:349.00px;top:219.85px">60</i><i style="left:366.00px;top:219.85px">59</i><i style="left:383.00px;top:219.85px">58</i><i style="left:400.00px;top:219.85px">57</i><i style="left:417.00px;top:219.85px">56</i><i style="left:434.00px;top:219.85px">55</i><i style="left:451.00px;top:219.85px">54</i><i style="left:503.00px;top:219.85px">53</i><i style="left:520.00px;top:219.85px">52</i><i style="left:537.00px;top:219.85px">51</i><i style="left:554.00px;top:219.85px">50</i><i style="left:571.00px;top:219.85px">49</i><i style="left:588.00px;top:219.85px">48</i><i style="left:605.00px;top:219.85px">47</i><i style="left:622.00px;top:219.85px">46</i><i style="left:639.00px;top:219.85px">45</i><i style="left:656.00px;top:219.85px">44</i><i style="left:673.00px;top:219.85px">43</i><i style="left:690.00px;top:219.85px">42</i><i style="left:707.00px;top:219.85px">41</i><i style="left:724.00px;top:219.85px">40</i><i style="left:741.00px;top:219.85px">39</i><i style="left:758.00px;top:219.85px">38</i><i style="left:775.00px;top:219.85px">37</i><i style="left:792.00px;top:219.85px">36</i><i style="left:809.00px;top:219.85px">35</i><i style="left:826.00px;top:219.85px">34</i><i style="left:843.00px;top:219.85px">33</i><i style="left:860.00px;top:219.85px">32</i><i style="left:877.00px;top:219.85px">31</i><i style="left:894.00px;top:219.85px">30</i><i style="left:911.00px;top:219.85px">29</i><i style="left:928.00px;top:219.85px">28</i><i style="left:945.00px;top:219.85px">27</i><i style="left:995.00px;top:219.85px">26</i><i style="left:1012.00px;top:219.85px">25</i><i style="left:1029.00px;top:219.85px">24</i><i style="left:1046.00px;top:219.85px">23</i><i style="left:1063.00px;top:219.85px">22</i><i style="left:1080.00px;top:219.85px">21</i><i style="left:1097.00px;top:219.85px">20</i><i style="left:1114.00px;top:219.85px">19</i><i style="left:1131.00px;top:219.85px">18</i><i style="left:1148.00px;top:219.85px">17</i><i style="left:1165.00px;top:219.85px">16</i><i style="left:1182.00px;top:219.85px">15</i><i style="left:1199.00px;top:219.85px">14</i><i style="left:1216.00px;top:219.85px">13</i><i style="left:1233.00px;top:219.85px">12</i><i style="left:1250.00px;top:219.85px">11</i><i style="left:1267.00px;top:219.85px">10</i><i style="left:1284.00px;top:219.85px">9</i><i style="left:1301.00px;top:219.85px">8</i><i style="left:1318.00px;top:219.85px">7</i><i style="left:1335.00px;top:219.85px">6</i><i style="left:1372.00px;top:219.85px">5</i><i style="left:1389.00px;top:219.85px">4</i><i style="left:1406.00px;top:219.85px">3</i><i style="left:1423.00px;top:219.85px">2</i><i style="left:1440.00px;top:219.85px">1</i><i style="left:6.00px;top:236.85px">64</i><i style="left:23.00px;top:236.85px">63</i><i style="left:40.00px;top:236.85px">62</i><i style="left:57.00px;top:236.85px">61</i><i style="left:74.00px;top:236.85px">60</i><i style="left:111.00px;top:236.85px">59</i><i style="left:128.00px;top:236.85px">58</i><i style="left:145.00px;top:236.85px">57</i><i style="left:162.00px;top:236.85px">56</i><i style="left:179.00px;top:236.85px">55</i><i style="left:281.00px;top:236.85px">54</i><i style="left:298.00px;top:236.85px">53</i><i style="left:315.00px;top:236.85px">52</i><i style="left:332.00px;top:236.85px">51</i><i style="left:349.00px;top:236.85px">50</i><i style="left:366.00px;top:236.85px">49</i><i style="left:383.00px;top:236.85px">48</i><i style="left:400.00px;top:236.85px">47</i><i style="left:417.00px;top:236.85px">46</i><i style="left:434.00px;top:236.85px">45</i><i style="left:451.00px;top:236.85px">44</i><i style="left:503.00px;top:236.85px">43</i><i style="left:520.00px;top:236.85px">42</i><i style="left:537.00px;top:236.85px">41</i><i style="left:554.00px;top:236.85px">40</i><i style="left:571.00px;top:236.85px">39</i><i style="left:588.00px;top:236.85px">38</i><i style="left:605.00px;top:236.85px">37</i><i style="left:622.00px;top:236.85px">36</i><i style="left:639.00px;top:236.85px">35</i><i style="left:656.00px;top:236.85px">34</i><i style="left:673.00px;top:236.85px">33</i><i style="left:775.00px;top:236.85px">32</i><i style="left:792.00px;top:236.85px">31</i><i style="left:809.00px;top:236.85px">30</i><i style="left:826.00px;top:236.85px">29</i><i style="left:843.00px;top:236.85px">28</i><i style="left:860.00px;top:236.85px">27</i><i style="left:877.00px;top:236.85px">26</i><i style="left:894.00px;top:236.85px">25</i><i style="left:911.00px;top:236.85px">24</i><i style="left:928.00px;top:236.85px">23</i><i style="left:945.00px;top:236.85px">22</i><i style="left:995.00px;top:236.85px">21</i><i style="left:1012.00px;top:236.85px">20</i><i style="left:1029.00px;top:236.85px">19</i><i style="left:1046.00px;top:236.85px">18</i><i style="left:1063.00px;top:236.85px">17</i><i style="left:1080.00px;top:236.85px">16</i><i style="left:1097.00px;top:236.85px">15</i><i style="left:1114.00px;top:236.85px">14</i><i style="left:1131.00px;top:236.85px">13</i><i style="left:1148.00px;top:236.85px">12</i><i style="left:1165.00px;top:236.85px">11</i><i style="left:1267.00px;top:236.85px">10</i><i style="left:1284.00px;top:236.85px">9</i><i style="left:1301.00px;top:236.85px">8</i><i style="left:1318.00px;top:236.85px">7</i><i style="left:1335.00px;top:236.85px">6</i><i style="left:1372.00px;top:236.85px">5</i><i style="left:1389.00px;top:236.85px">4</i><i style="left:1406.00px;top:236.85px">3</i><i style="left:1423.00px;top:236.85px">2</i><i style="left:1440.00px;top:236.85px">1</i><i style="left:6.00px;top:253.85px">64</i><i style="left:23.00px;top:253.85px">63</i><i style="left:40.00px;top:253.85px">62</i><i style="left:57.00px;top:253.85px">61</i><i style="left:74.00px;top:253.85px">60</i><i style="left:111.00px;top:253.85px">59</i><i style="left:128.00px;top:253.85px">58</i><i style="left:145.00px;top:253.85px">57</i><i style="left:162.00px;top:253.85px">56</i><i style="left:179.00px;top:253.85px">55</i><i style="left:281.00px;top:253.85px">54</i><i style="left:298.00px;top:253.85px">53</i><i style="left:315.00px;top:253.85px">52</i><i style="left:332.00px;top:253.85px">51</i><i style="left:349.00px;top:253.85px">50</i><i style="left:366.00px;top:253.85px">49</i><i style="left:383.00px;top:253.85px">48</i><i style="left:400.00px;top:253.85px">47</i><i style="left:417.00px;top:253.85px">46</i><i style="left:434.00px;top:253.85px">45</i><i style="left:451.00px;top:253.85px">44</i><i style="left:503.00px;top:253.85px">43</i><i style="left:520.00px;top:253.85px">42</i><i style="left:537.00px;top:253.85px">41</i><i style="left:554.00px;top:253.85px">40</i><i style="left:571.00px;top:253.85px">39</i><i style="left:588.00px;top:253.85px">38</i><i style="left:605.00px;top:253.85px">37</i><i style="left:622.00px;top:253.85px">36</i><i style="left:639.00px;top:253.85px">35</i><i style="left:656.00px;top:253.85px">34</i><i style="left:673.00px;top:253.85px">33</i><i style="left:775.00px;top:253.85px">32</i><i style="left:792.00px;top:253.85px">31</i><i style="left:809.00px;top:253.85px">30</i><i style="left:826.00px;top:253.85px">29</i><i style="left:843.00px;top:253.85px">28</i><i style="left:860.00px;top:253.85px">27</i><i style="left:877.00px;top:253.85px">26</i><i style="left:894.00px;top:253.85px">25</i><i style="left:911.00px;top:253.85px">24</i><i style="left:928.00px;top:253.85px">23</i><i style="left:945.00px;top:253.85px">22</i><i style="left:995.00px;top:253.85px">21</i><i style="left:1012.00px;top:253.85px">20</i><i style="left:1029.00px;top:253.85px">19</i><i style="left:1046.00px;top:253.85px">18</i><i style="left:1063.00px;top:253.85px">17</i><i style="left:1080.00px;top:253.85px">16</i><i style="left:1097.00px;top:253.85px">15</i><i style="left:1114.00px;top:253.85px">14</i><i style="left:1131.00px;top:253.85px">13</i><i style="left:1148.00px;top:253.85px">12</i><i style="left:1165.00px;top:253.85px">11</i><i style="left:1267.00px;top:253.85px">10</i><i style="left:1284.00px;top:253.85px">9</i><i style="left:1301.00px;top:253.85px">8</i><i style="left:1318.00px;top:253.85px">7</i><i style="left:1335.00px;top:253.85px">6</i><i style="left:1372.00px;top:253.85px">5</i><i style="left:1389.00px;top:253.85px">4</i><i style="left:1406.00px;top:253.85px">3</i><i style="left:1423.00px;top:253.85px">2</i><i style="left:1440.00px;top:253.85px">1</i><i style="left:6.00px;top:270.85px">64</i><i style="left:23.00px;top:270.85px">63</i><i style="left:40.00px;top:270.85px">62</i><i style="left:57.00px;top:270.85px">61</i><i style="left:74.00px;top:270.85px">60</i><i style="left:111.00px;top:270.85px">59</i><i style="left:128.00px;top:270.85px">58</i><i style="left:145.00px;top:270.85px">57</i><i style="left:162.00px;top:270.85px">56</i><i style="left:179.00px;top:270.85px">55</i><i style="left:281.00px;top:270.85px">54</i><i style="left:298.00px;top:270.85px">53</i><i style="left:315.00px;top:270.85px">52</i><i style="left:332.00px;top:270.85px">51</i><i style="left:349.00px;top:270.85px">50</i><i style="left:366.00px;top:270.85px">49</i><i style="left:383.00px;top:270.85px">48</i><i style="left:400.00px;top:270.85px">47</i><i style="left:417.00px;top:270.85px">46</i><i style="left:434.00px;top:270.85px">45</i><i style="left:451.00px;top:270.85px">44</i><i style="left:503.00px;top:270.85px">43</i><i style="left:520.00px;top:270.85px">42</i><i style="left:537.00px;top:270.85px">41</i><i style="left:554.00px;top:270.85px">40</i><i style="left:571.00px;top:270.85px">39</i><i style="left:588.00px;top:270.85px">38</i><i style="left:605.00px;top:270.85px">37</i><i style="left:622.00px;top:270.85px">36</i><i style="left:639.00px;top:270.85px">35</i><i style="left:656.00px;top:270.85px">34</i><i style="left:673.00px;top:270.85px">33</i><i style="left:775.00px;top:270.85px">32</i><i style="left:792.00px;top:270.85px">31</i><i style="left:809.00px;top:270.85px">30</i><i style="left:826.00px;top:270.85px">29</i><i style="left:843.00px;top:270.85px">28</i><i style="left:860.00px;top:270.85px">27</i><i style="left:877.00px;top:270.85px">26</i><i style="left:894.00px;top:270.85px">25</i><i style="left:911.00px;top:270.85px">24</i><i style="left:928.00px;top:270.85px">23</i><i style="left:945.00px;top:270.85px">22</i><i style="left:995.00px;top:270.85px">21</i><i style="left:1012.00px;top:270.85px">20</i><i style="left:1029.00px;top:270.85px">19</i><i style="left:1046.00px;top:270.85px">18</i><i style="left:1063.00px;top:270.85px">17</i><i style="left:1080.00px;top:270.85px">16</i><i style="left:1097.00px;top:270.85px">15</i><i style="left:1114.00px;top:270.85px">14</i><i style="left:1131.00px;top:270.85px">13</i><i style="left:1148.00px;top:270.85px">12</i><i style="left:1165.00px;top:270.85px">11</i><i style="left:1267.00px;top:270.85px">10</i><i style="left:1284.00px;top:270.85px">9</i><i style="left:1301.00px;top:270.85px">8</i><i style="left:1318.00px;top:270.85px">7</i><i style="left:1335.00px;top:270.85px">6</i><i style="left:1372.00px;top:270.85px">5</i><i style="left:1389.00px;top:270.85px">4</i><i style="left:1406.00px;top:270.85px">3</i><i style="left:1423.00px;top:270.85px">2</i><i style="left:1440.00px;top:270.85px">1</i><i style="left:6.00px;top:287.85px">64</i><i style="left:23.00px;top:287.85px">63</i><i style="left:40.00px;top:287.85px">62</i><i style="left:57.00px;top:287.85px">61</i><i style="left:74.00px;top:287.85px">60</i><i style="left:111.00px;top:287.85px">59</i><i style="left:128.00px;top:287.85px">58</i><i style="left:145.00px;top:287.85px">57</i><i style="left:162.00px;top:287.85px">56</i><i style="left:179.00px;top:287.85px">55</i><i style="left:281.00px;top:287.85px">54</i><i style="left:298.00px;top:287.85px">53</i><i style="left:315.00px;top:287.85px">52</i><i style="left:332.00px;top:287.85px">51</i><i style="left:349.00px;top:287.85px">50</i><i style="left:366.00px;top:287.85px">49</i><i style="left:383.00px;top:287.85px">48</i><i style="left:400.00px;top:287.85px">47</i><i style="left:417.00px;top:287.85px">46</i><i style="left:434.00px;top:287.85px">45</i><i style="left:451.00px;top:287.85px">44</i><i style="left:503.00px;top:287.85px">43</i><i style="left:520.00px;top:287.85px">42</i><i style="left:537.00px;top:287.85px">41</i><i style="left:554.00px;top:287.85px">40</i><i style="left:571.00px;top:287.85px">39</i><i style="left:588.00px;top:287.85px">38</i><i style="left:605.00px;top:287.85px">37</i><i style="left:622.00px;top:287.85px">36</i><i style="left:639.00px;top:287.85px">35</i><i style="left:656.00px;top:287.85px">34</i><i style="left:673.00px;top:287.85px">33</i><i style="left:775.00px;top:287.85px">32</i><i style="left:792.00px;top:287.85px">31</i><i style="left:809.00px;top:287.85px">30</i><i style="left:826.00px;top:287.85px">29</i><i style="left:843.00px;top:287.85px">28</i><i style="left:860.00px;top:287.85px">27</i><i style="left:877.00px;top:287.85px">26</i><i style="left:894.00px;top:287.85px">25</i><i style="left:911.00px;top:287.85px">24</i><i style="left:928.00px;top:287.85px">23</i><i style="left:945.00px;top:287.85px">22</i><i style="left:995.00px;top:287.85px">21</i><i style="left:1012.00px;top:287.85px">20</i><i style="left:1029.00px;top:287.85px">19</i><i style="left:1046.00px;top:287.85px">18</i><i style="left:1063.00px;top:287.85px">17</i><i style="left:1080.00px;top:287.85px">16</i><i style="left:1097.00px;top:287.85px">15</i><i style="left:1114.00px;top:287.85px">14</i><i style="left:1131.00px;top:287.85px">13</i><i style="left:1148.00px;top:287.85px">12</i><i style="left:1165.00px;top:287.85px">11</i><i style="left:1267.00px;top:287.85px">10</i><i style="left:1284.00px;top:287.85px">9</i><i style="left:1301.00px;top:287.85px">8</i><i style="left:1318.00px;top:287.85px">7</i><i style="left:1335.00px;top:287.85px">6</i><i style="left:1372.00px;top:287.85px">5</i><i style="left:1389.00px;top:287.85px">4</i><i style="left:1406.00px;top:287.85px">3</i><i style="left:1423.00px;top:287.85px">2</i><i style="left:1440.00px;top:287.85px">1</i><i style="left:86.00px;top:348.65px">1</i><i style="left:103.00px;top:348.65px">2</i><i style="left:120.00px;top:348.65px">3</i><i style="left:137.00px;top:348.65px">4</i><i style="left:154.00px;top:348.65px">5</i><i style="left:171.00px;top:348.65px">6</i><i style="left:188.00px;top:348.65px">7</i><i style="left:205.00px;top:348.65px">8</i><i style="left:222.00px;top:348.65px">9</i><i style="left:239.00px;top:348.65px">10</i><i style="left:256.00px;top:348.65px">11</i><i style="left:273.00px;top:348.65px">12</i><i style="left:290.00px;top:348.65px">13</i><i style="left:307.00px;top:348.65px">14</i><i style="left:324.00px;top:348.65px">15</i><i style="left:341.00px;top:348.65px">16</i><i style="left:358.00px;top:348.65px">17</i><i style="left:375.00px;top:348.65px">18</i><i style="left:392.00px;top:348.65px">19</i><i style="left:409.00px;top:348.65px">20</i><i style="left:426.00px;top:348.65px">21</i><i style="left:443.00px;top:348.65px">22</i><i style="left:490.00px;top:348.65px">23</i><i style="left:507.00px;top:348.65px">24</i><i style="left:524.00px;top:348.65px">25</i><i style="left:541.00px;top:348.65px">26</i><i style="left:558.00px;top:348.65px">27</i><i style="left:575.00px;top:348.65px">28</i><i style="left:592.00px;top:348.65px">29</i><i style="left:609.00px;top:348.65px">30</i><i style="left:626.00px;top:348.65px">31</i><i style="left:643.00px;top:348.65px">32</i><i style="left:660.00px;top:348.65px">33</i><i style="left:677.00px;top:348.65px">34</i><i style="left:694.00px;top:348.65px">35</i><i style="left:711.00px;top:348.65px">36</i><i style="left:728.00px;top:348.65px">37</i><i style="left:745.00px;top:348.65px">38</i><i style="left:762.00px;top:348.65px">39</i><i style="left:779.00px;top:348.65px">40</i><i style="left:796.00px;top:348.65px">41</i><i style="left:813.00px;top:348.65px">42</i><i style="left:830.00px;top:348.65px">43</i><i style="left:847.00px;top:348.65px">44</i><i style="left:864.00px;top:348.65px">45</i><i style="left:881.00px;top:348.65px">46</i><i style="left:898.00px;top:348.65px">47</i><i style="left:915.00px;top:348.65px">48</i><i style="left:932.00px;top:348.65px">49</i><i style="left:949.00px;top:348.65px">50</i><i style="left:966.00px;top:348.65px">51</i><i style="left:1013.00px;top:348.65px">52</i><i style="left:1030.00px;top:348.65px">53</i><i style="left:1047.00px;top:348.65px">54</i><i style="left:1064.00px;top:348.65px">55</i><i style="left:1081.00px;top:348.65px">56</i><i style="left:1098.00px;top:348.65px">57</i><i style="left:1115.00px;top:348.65px">58</i><i style="left:1132.00px;top:348.65px">59</i><i style="left:1149.00px;top:348.65px">60</i><i style="left:1166.00px;top:348.65px">61</i><i style="left:1183.00px;top:348.65px">62</i><i style="left:1200.00px;top:348.65px">63</i><i style="left:1217.00px;top:348.65px">64</i><i style="left:1234.00px;top:348.65px">65</i><i style="left:1251.00px;top:348.65px">66</i><i style="left:1268.00px;top:348.65px">67</i><i style="left:1285.00px;top:348.65px">68</i><i style="left:1302.00px;top:348.65px">69</i><i style="left:1319.00px;top:348.65px">70</i><i style="left:1336.00px;top:348.65px">71</i><i style="left:1353.00px;top:348.65px">72</i><i style="left:1370.00px;top:348.65px">73</i><i style="left:86.00px;top:365.65px">1</i><i style="left:103.00px;top:365.65px">2</i><i style="left:120.00px;top:365.65px">3</i><i style="left:137.00px;top:365.65px">4</i><i style="left:154.00px;top:365.65px">5</i><i style="left:171.00px;top:365.65px">6</i><i style="left:188.00px;top:365.65px">7</i><i style="left:205.00px;top:365.65px">8</i><i style="left:222.00px;top:365.65px">9</i><i style="left:239.00px;top:365.65px">10</i><i style="left:256.00px;top:365.65px">11</i><i style="left:273.00px;top:365.65px">12</i><i style="left:290.00px;top:365.65px">13</i><i style="left:307.00px;top:365.65px">14</i><i style="left:324.00px;top:365.65px">15</i><i style="left:341.00px;top:365.65px">16</i><i style="left:358.00px;top:365.65px">17</i><i style="left:375.00px;top:365.65px">18</i><i style="left:392.00px;top:365.65px">19</i><i style="left:409.00px;top:365.65px">20</i><i style="left:426.00px;top:365.65px">21</i><i style="left:443.00px;top:365.65px">22</i><i style="left:490.00px;top:365.65px">23</i><i style="left:507.00px;top:365.65px">24</i><i style="left:524.00px;top:365.65px">25</i><i style="left:541.00px;top:365.65px">26</i><i style="left:558.00px;top:365.65px">27</i><i style="left:575.00px;top:365.65px">28</i><i style="left:592.00px;top:365.65px">29</i><i style="left:609.00px;top:365.65px">30</i><i style="left:626.00px;top:365.65px">31</i><i style="left:643.00px;top:365.65px">32</i><i style="left:660.00px;top:365.65px">33</i><i style="left:677.00px;top:365.65px">34</i><i style="left:694.00px;top:365.65px">35</i><i style="left:711.00px;top:365.65px">36</i><i style="left:728.00px;top:365.65px">37</i><i style="left:745.00px;top:365.65px">38</i><i style="left:762.00px;top:365.65px">39</i><i style="left:779.00px;top:365.65px">40</i><i style="left:796.00px;top:365.65px">41</i><i style="left:813.00px;top:365.65px">42</i><i style="left:830.00px;top:365.65px">43</i><i style="left:847.00px;top:365.65px">44</i><i style="left:864.00px;top:365.65px">45</i><i style="left:881.00px;top:365.65px">46</i><i style="left:898.00px;top:365.65px">47</i><i style="left:915.00px;top:365.65px">48</i><i style="left:932.00px;top:365.65px">49</i><i style="left:949.00px;top:365.65px">50</i><i style="left:966.00px;top:365.65px">51</i><i style="left:1013.00px;top:365.65px">52</i><i style="left:1030.00px;top:365.65px">53</i><i style="left:1047.00px;top:365.65px">54</i><i style="left:1064.00px;top:365.65px">55</i><i style="left:1081.00px;top:365.65px">56</i><i style="left:1098.00px;top:365.65px">57</i><i style="left:1115.00px;top:365.65px">58</i><i style="left:1132.00px;top:365.65px">59</i><i style="left:1149.00px;top:365.65px">60</i><i style="left:1166.00px;top:365.65px">61</i><i style="left:1183.00px;top:365.65px">62</i><i style="left:1200.00px;top:365.65px">63</i><i style="left:1217.00px;top:365.65px">64</i><i style="left:1234.00px;top:365.65px">65</i><i style="left:1251.00px;top:365.65px">66</i><i style="left:1268.00px;top:365.65px">67</i><i style="left:1285.00px;top:365.65px">68</i><i style="left:1302.00px;top:365.65px">69</i><i style="left:1319.00px;top:365.65px">70</i><i style="left:1336.00px;top:365.65px">71</i><i style="left:1353.00px;top:365.65px">72</i><i style="left:1370.00px;top:365.65px">73</i><i style="left:86.00px;top:382.65px">1</i><i style="left:103.00px;top:382.65px">2</i><i style="left:120.00px;top:382.65px">3</i><i style="left:137.00px;top:382.65px">4</i><i style="left:154.00px;top:382.65px">5</i><i style="left:171.00px;top:382.65px">6</i><i style="left:188.00px;top:382.65px">7</i><i style="left:205.00px;top:382.65px">8</i><i style="left:222.00px;top:382.65px">9</i><i style="left:239.00px;top:382.65px">10</i><i style="left:256.00px;top:382.65px">11</i><i style="left:273.00px;top:382.65px">12</i><i style="left:290.00px;top:382.65px">13</i><i style="left:307.00px;top:382.65px">14</i><i style="left:324.00px;top:382.65px">15</i><i style="left:341.00px;top:382.65px">16</i><i style="left:358.00px;top:382.65px">17</i><i style="left:375.00px;top:382.65px">18</i><i style="left:392.00px;top:382.65px">19</i><i style="left:409.00px;top:382.65px">20</i><i style="left:426.00px;top:382.65px">21</i><i style="left:443.00px;top:382.65px">22</i><i style="left:490.00px;top:382.65px">23</i><i style="left:507.00px;top:382.65px">24</i><i style="left:524.00px;top:382.65px">25</i><i style="left:541.00px;top:382.65px">26</i><i style="left:558.00px;top:382.65px">27</i><i style="left:575.00px;top:382.65px">28</i><i style="left:592.00px;top:382.65px">29</i><i style="left:609.00px;top:382.65px">30</i><i style="left:626.00px;top:382.65px">31</i><i style="left:643.00px;top:382.65px">32</i><i style="left:664.00px;top:382.65px">33</i><i style="left:684.00px;top:382.65px">34</i><i style="left:703.00px;top:382.65px">35</i><i style="left:721.30px;top:382.65px">36</i><i style="left:739.30px;top:382.65px">37</i><i style="left:758.00px;top:382.65px">38</i><i style="left:775.00px;top:382.65px">39</i><i style="left:794.00px;top:382.65px">40</i><i style="left:811.00px;top:382.65px">41</i><i style="left:828.00px;top:382.65px">42</i><i style="left:847.00px;top:382.65px">43</i><i style="left:864.00px;top:382.65px">44</i><i style="left:881.00px;top:382.65px">45</i><i style="left:898.00px;top:382.65px">46</i><i style="left:915.00px;top:382.65px">47</i><i style="left:932.00px;top:382.65px">48</i><i style="left:949.00px;top:382.65px">49</i><i style="left:966.00px;top:382.65px">50</i><i style="left:1013.00px;top:382.65px">51</i><i style="left:1030.00px;top:382.65px">52</i><i style="left:1047.00px;top:382.65px">53</i><i style="left:1064.00px;top:382.65px">54</i><i style="left:1081.00px;top:382.65px">55</i><i style="left:1098.00px;top:382.65px">56</i><i style="left:1115.00px;top:382.65px">57</i><i style="left:1132.00px;top:382.65px">58</i><i style="left:1149.00px;top:382.65px">59</i><i style="left:1166.00px;top:382.65px">60</i><i style="left:1183.00px;top:382.65px">61</i><i style="left:1200.00px;top:382.65px">62</i><i style="left:1217.00px;top:382.65px">63</i><i style="left:1234.00px;top:382.65px">64</i><i style="left:1251.00px;top:382.65px">65</i><i style="left:1268.00px;top:382.65px">66</i><i style="left:1285.00px;top:382.65px">67</i><i style="left:1302.00px;top:382.65px">68</i><i style="left:1319.00px;top:382.65px">69</i><i style="left:1336.00px;top:382.65px">70</i><i style="left:1353.00px;top:382.65px">71</i><i style="left:1370.00px;top:382.65px">72</i><i style="left:86.00px;top:399.65px">1</i><i style="left:103.00px;top:399.65px">2</i><i style="left:120.00px;top:399.65px">3</i><i style="left:137.00px;top:399.65px">4</i><i style="left:154.00px;top:399.65px">5</i><i style="left:171.00px;top:399.65px">6</i><i style="left:188.00px;top:399.65px">7</i><i style="left:205.00px;top:399.65px">8</i><i style="left:222.00px;top:399.65px">9</i><i style="left:239.00px;top:399.65px">10</i><i style="left:256.00px;top:399.65px">11</i><i style="left:273.00px;top:399.65px">12</i><i style="left:290.00px;top:399.65px">13</i><i style="left:307.00px;top:399.65px">14</i><i style="left:324.00px;top:399.65px">15</i><i style="left:341.00px;top:399.65px">16</i><i style="left:358.00px;top:399.65px">17</i><i style="left:375.00px;top:399.65px">18</i><i style="left:392.00px;top:399.65px">19</i><i style="left:409.00px;top:399.65px">20</i><i style="left:426.00px;top:399.65px">21</i><i style="left:443.00px;top:399.65px">22</i><i style="left:490.00px;top:399.65px">23</i><i style="left:507.00px;top:399.65px">24</i><i style="left:524.00px;top:399.65px">25</i><i style="left:541.00px;top:399.65px">26</i><i style="left:558.00px;top:399.65px">27</i><i style="left:575.00px;top:399.65px">28</i><i style="left:592.00px;top:399.65px">29</i><i style="left:609.00px;top:399.65px">30</i><i style="left:626.00px;top:399.65px">31</i><i style="left:643.00px;top:399.65px">32</i><i style="left:664.00px;top:399.65px">33</i><i style="left:684.00px;top:399.65px">34</i><i style="left:703.00px;top:399.65px">35</i><i style="left:721.30px;top:399.65px">36</i><i style="left:739.30px;top:399.65px">37</i><i style="left:758.00px;top:399.65px">38</i><i style="left:775.00px;top:399.65px">39</i><i style="left:794.00px;top:399.65px">40</i><i style="left:811.00px;top:399.65px">41</i><i style="left:828.00px;top:399.65px">42</i><i style="left:847.00px;top:399.65px">43</i><i style="left:864.00px;top:399.65px">44</i><i style="left:881.00px;top:399.65px">45</i><i style="left:898.00px;top:399.65px">46</i><i style="left:915.00px;top:399.65px">47</i><i style="left:932.00px;top:399.65px">48</i><i style="left:949.00px;top:399.65px">49</i><i style="left:966.00px;top:399.65px">50</i><i style="left:1013.00px;top:399.65px">51</i><i style="left:1030.00px;top:399.65px">52</i><i style="left:1047.00px;top:399.65px">53</i><i style="left:1064.00px;top:399.65px">54</i><i style="left:1081.00px;top:399.65px">55</i><i style="left:1098.00px;top:399.65px">56</i><i style="left:1115.00px;top:399.65px">57</i><i style="left:1132.00px;top:399.65px">58</i><i style="left:1149.00px;top:399.65px">59</i><i style="left:1166.00px;top:399.65px">60</i><i style="left:1183.00px;top:399.65px">61</i><i style="left:1200.00px;top:399.65px">62</i><i style="left:1217.00px;top:399.65px">63</i><i style="left:1234.00px;top:399.65px">64</i><i style="left:1251.00px;top:399.65px">65</i><i style="left:1268.00px;top:399.65px">66</i><i style="left:1285.00px;top:399.65px">67</i><i style="left:1302.00px;top:399.65px">68</i><i style="left:1319.00px;top:399.65px">69</i><i style="left:1336.00px;top:399.65px">70</i><i style="left:1353.00px;top:399.65px">71</i><i style="left:1370.00px;top:399.65px">72</i><i style="left:86.00px;top:416.65px">1</i><i style="left:103.00px;top:416.65px">2</i><i style="left:120.00px;top:416.65px">3</i><i style="left:137.00px;top:416.65px">4</i><i style="left:154.00px;top:416.65px">5</i><i style="left:171.00px;top:416.65px">6</i><i style="left:188.00px;top:416.65px">7</i><i style="left:205.00px;top:416.65px">8</i><i style="left:222.00px;top:416.65px">9</i><i style="left:239.00px;top:416.65px">10</i><i style="left:256.00px;top:416.65px">11</i><i style="left:273.00px;top:416.65px">12</i><i style="left:290.00px;top:416.65px">13</i><i style="left:307.00px;top:416.65px">14</i><i style="left:324.00px;top:416.65px">15</i><i style="left:341.00px;top:416.65px">16</i><i style="left:358.00px;top:416.65px">17</i><i style="left:375.00px;top:416.65px">18</i><i style="left:392.00px;top:416.65px">19</i><i style="left:409.00px;top:416.65px">20</i><i style="left:426.00px;top:416.65px">21</i><i style="left:443.00px;top:416.65px">22</i><i style="left:490.00px;top:416.65px">23</i><i style="left:507.00px;top:416.65px">24</i><i style="left:524.00px;top:416.65px">25</i><i style="left:541.00px;top:416.65px">26</i><i style="left:558.00px;top:416.65px">27</i><i style="left:575.00px;top:416.65px">28</i><i style="left:592.00px;top:416.65px">29</i><i style="left:609.00px;top:416.65px">30</i><i style="left:626.00px;top:416.65px">31</i><i style="left:643.00px;top:416.65px">32</i><i style="left:664.00px;top:416.65px">33</i><i style="left:684.00px;top:416.65px">34</i><i style="left:703.00px;top:416.65px">35</i><i style="left:721.30px;top:416.65px">36</i><i style="left:739.30px;top:416.65px">37</i><i style="left:758.00px;top:416.65px">38</i><i style="left:775.00px;top:416.65px">39</i><i style="left:794.00px;top:416.65px">40</i><i style="left:811.00px;top:416.65px">41</i><i style="left:828.00px;top:416.65px">42</i><i style="left:847.00px;top:416.65px">43</i><i style="left:864.00px;top:416.65px">44</i><i style="left:881.00px;top:416.65px">45</i><i style="left:898.00px;top:416.65px">46</i><i style="left:915.00px;top:416.65px">47</i><i style="left:932.00px;top:416.65px">48</i><i style="left:949.00px;top:416.65px">49</i><i style="left:966.00px;top:416.65px">50</i><i style="left:1013.00px;top:416.65px">51</i><i style="left:1030.00px;top:416.65px">52</i><i style="left:1047.00px;top:416.65px">53</i><i style="left:1064.00px;top:416.65px">54</i><i style="left:1081.00px;top:416.65px">55</i><i style="left:1098.00px;top:416.65px">56</i><i style="left:1115.00px;top:416.65px">57</i><i style="left:1132.00px;top:416.65px">58</i><i style="left:1149.00px;top:416.65px">59</i><i style="left:1166.00px;top:416.65px">60</i><i style="left:1183.00px;top:416.65px">61</i><i style="left:1200.00px;top:416.65px">62</i><i style="left:1217.00px;top:416.65px">63</i><i style="left:1234.00px;top:416.65px">64</i><i style="left:1251.00px;top:416.65px">65</i><i style="left:1268.00px;top:416.65px">66</i><i style="left:1285.00px;top:416.65px">67</i><i style="left:1302.00px;top:416.65px">68</i><i style="left:1319.00px;top:416.65px">69</i><i style="left:1336.00px;top:416.65px">70</i><i style="left:1353.00px;top:416.65px">71</i><i style="left:1370.00px;top:416.65px">72</i><i style="left:86.00px;top:433.65px">1</i><i style="left:103.00px;top:433.65px">2</i><i style="left:120.00px;top:433.65px">3</i><i style="left:137.00px;top:433.65px">4</i><i style="left:154.00px;top:433.65px">5</i><i style="left:171.00px;top:433.65px">6</i><i style="left:188.00px;top:433.65px">7</i><i style="left:205.00px;top:433.65px">8</i><i style="left:222.00px;top:433.65px">9</i><i style="left:239.00px;top:433.65px">10</i><i style="left:256.00px;top:433.65px">11</i><i style="left:273.00px;top:433.65px">12</i><i style="left:290.00px;top:433.65px">13</i><i style="left:307.00px;top:433.65px">14</i><i style="left:324.00px;top:433.65px">15</i><i style="left:341.00px;top:433.65px">16</i><i style="left:358.00px;top:433.65px">17</i><i style="left:375.00px;top:433.65px">18</i><i style="left:392.00px;top:433.65px">19</i><i style="left:409.00px;top:433.65px">20</i><i style="left:426.00px;top:433.65px">21</i><i style="left:443.00px;top:433.65px">22</i><i style="left:490.00px;top:433.65px">23</i><i style="left:507.00px;top:433.65px">24</i><i style="left:524.00px;top:433.65px">25</i><i style="left:541.00px;top:433.65px">26</i><i style="left:558.00px;top:433.65px">27</i><i style="left:575.00px;top:433.65px">28</i><i style="left:592.00px;top:433.65px">29</i><i style="left:609.00px;top:433.65px">30</i><i style="left:626.00px;top:433.65px">31</i><i style="left:643.00px;top:433.65px">32</i><i style="left:664.00px;top:433.65px">33</i><i style="left:684.00px;top:433.65px">34</i><i style="left:703.00px;top:433.65px">35</i><i style="left:721.30px;top:433.65px">36</i><i style="left:739.30px;top:433.65px">37</i><i style="left:758.00px;top:433.65px">38</i><i style="left:775.00px;top:433.65px">39</i><i style="left:794.00px;top:433.65px">40</i><i style="left:811.00px;top:433.65px">41</i><i style="left:828.00px;top:433.65px">42</i><i style="left:847.00px;top:433.65px">43</i><i style="left:864.00px;top:433.65px">44</i><i style="left:881.00px;top:433.65px">45</i><i style="left:898.00px;top:433.65px">46</i><i style="left:915.00px;top:433.65px">47</i><i style="left:932.00px;top:433.65px">48</i><i style="left:949.00px;top:433.65px">49</i><i style="left:966.00px;top:433.65px">50</i><i style="left:1013.00px;top:433.65px">51</i><i style="left:1030.00px;top:433.65px">52</i><i style="left:1047.00px;top:433.65px">53</i><i style="left:1064.00px;top:433.65px">54</i><i style="left:1081.00px;top:433.65px">55</i><i style="left:1098.00px;top:433.65px">56</i><i style="left:1115.00px;top:433.65px">57</i><i style="left:1132.00px;top:433.65px">58</i><i style="left:1149.00px;top:433.65px">59</i><i style="left:1166.00px;top:433.65px">60</i><i style="left:1183.00px;top:433.65px">61</i><i style="left:1200.00px;top:433.65px">62</i><i style="left:1217.00px;top:433.65px">63</i><i style="left:1234.00px;top:433.65px">64</i><i style="left:1251.00px;top:433.65px">65</i><i style="left:1268.00px;top:433.65px">66</i><i style="left:1285.00px;top:433.65px">67</i><i style="left:1302.00px;top:433.65px">68</i><i style="left:1319.00px;top:433.65px">69</i><i style="left:1336.00px;top:433.65px">70</i><i style="left:1353.00px;top:433.65px">71</i><i style="left:1370.00px;top:433.65px">72</i><i style="left:86.00px;top:451.45px">1</i><i style="left:103.00px;top:451.45px">2</i><i style="left:120.00px;top:451.45px">3</i><i style="left:137.00px;top:451.45px">4</i><i style="left:154.00px;top:451.45px">5</i><i style="left:171.00px;top:451.45px">6</i><i style="left:188.00px;top:451.45px">7</i><i style="left:205.00px;top:451.45px">8</i><i style="left:222.00px;top:451.45px">9</i><i style="left:239.00px;top:451.45px">10</i><i style="left:256.00px;top:451.45px">11</i><i style="left:273.00px;top:451.45px">12</i><i style="left:290.00px;top:451.45px">13</i><i style="left:307.00px;top:451.45px">14</i><i style="left:324.00px;top:451.45px">15</i><i style="left:341.00px;top:451.45px">16</i><i style="left:358.00px;top:451.45px">17</i><i style="left:375.00px;top:451.45px">18</i><i style="left:392.00px;top:451.45px">19</i><i style="left:409.00px;top:451.45px">20</i><i style="left:426.00px;top:451.45px">21</i><i style="left:443.00px;top:451.45px">22</i><i style="left:490.00px;top:451.45px">23</i><i style="left:507.00px;top:451.45px">24</i><i style="left:524.00px;top:451.45px">25</i><i style="left:541.00px;top:451.45px">26</i><i style="left:558.00px;top:451.45px">27</i><i style="left:575.00px;top:451.45px">28</i><i style="left:592.00px;top:451.45px">29</i><i style="left:609.00px;top:451.45px">30</i><i style="left:626.00px;top:450.45px">31</i><i style="left:643.00px;top:450.45px">32</i><i style="left:664.00px;top:451.45px">33</i><i style="left:684.00px;top:451.45px">34</i><i style="left:703.00px;top:451.45px">35</i><i style="left:721.30px;top:451.45px">36</i><i style="left:739.30px;top:451.45px">37</i><i style="left:758.00px;top:451.45px">38</i><i style="left:775.00px;top:451.45px">39</i><i style="left:794.00px;top:451.45px">40</i><i style="left:811.00px;top:451.45px">41</i><i style="left:828.00px;top:451.45px">42</i><i style="left:847.00px;top:451.45px">43</i><i style="left:864.00px;top:451.45px">44</i><i style="left:881.00px;top:451.45px">45</i><i style="left:898.00px;top:451.45px">46</i><i style="left:915.00px;top:451.45px">47</i><i style="left:932.00px;top:451.45px">48</i><i style="left:949.00px;top:451.45px">49</i><i style="left:966.00px;top:451.45px">50</i><i style="left:1013.00px;top:451.45px">51</i><i style="left:1030.00px;top:451.45px">52</i><i style="left:1047.00px;top:451.45px">53</i><i style="left:1064.00px;top:451.45px">54</i><i style="left:1081.00px;top:451.45px">55</i><i style="left:1098.00px;top:451.45px">56</i><i style="left:1115.00px;top:451.45px">57</i><i style="left:1132.00px;top:451.45px">58</i><i style="left:1149.00px;top:451.45px">59</i><i style="left:1166.00px;top:451.45px">60</i><i style="left:1183.00px;top:451.45px">61</i><i style="left:1200.00px;top:451.45px">62</i><i style="left:1217.00px;top:451.45px">63</i><i style="left:1234.00px;top:451.45px">64</i><i style="left:1251.00px;top:451.45px">65</i><i style="left:1268.00px;top:451.45px">66</i><i style="left:1285.00px;top:451.45px">67</i><i style="left:1302.00px;top:451.45px">68</i><i style="left:1319.00px;top:451.45px">69</i><i style="left:1336.00px;top:451.45px">70</i><i style="left:1353.00px;top:451.45px">71</i><i style="left:1370.00px;top:451.45px">72</i><i style="left:1426.00px;top:561.45px">1</i><i style="left:1426.00px;top:578.45px">2</i><i style="left:1426.00px;top:595.45px">3</i><i style="left:1426.00px;top:612.45px">4</i><i style="left:1486.00px;top:561.45px">1</i><i style="left:1486.00px;top:578.45px">2</i><i style="left:1486.00px;top:595.45px">3</i><i style="left:1486.00px;top:612.45px">4</i><i style="left:1486.00px;top:629.45px">5</i>
<div class="t" style="left:481.00px;top:17.00px;font-weight:bold;font-size:16px;line-height:16px">17</div><div class="t" style="left:974.50px;top:17.00px;font-weight:bold;font-size:16px;line-height:16px">17</div><div class="t" style="left:481.00px;top:34.00px;font-weight:bold;font-size:16px;line-height:16px">16</div><div class="t" style="left:974.50px;top:34.00px;font-weight:bold;font-size:16px;line-height:16px">16</div><div class="t" style="left:481.00px;top:51.00px;font-weight:bold;font-size:16px;line-height:16px">15</div><div class="t" style="left:974.50px;top:51.00px;font-weight:bold;font-size:16px;line-height:16px">15</div><div class="t" style="left:480.00px;top:68.00px;font-weight:bold;font-size:16px;line-height:16px">14</div><div class="t" style="left:974.50px;top:68.00px;font-weight:bold;font-size:16px;line-height:16px">14</div><div class="t" style="left:481.00px;top:85.00px;font-weight:bold;font-size:16px;line-height:16px">13</div><div class="t" style="left:974.50px;top:85.00px;font-weight:bold;font-size:16px;line-height:16px">13</div><div class="t" style="left:481.00px;top:102.00px;font-weight:bold;font-size:16px;line-height:16px">12</div><div class="t" style="left:974.50px;top:102.00px;font-weight:bold;font-size:16px;line-height:16px">12</div><div class="t" style="left:481.00px;top:119.00px;font-weight:bold;font-size:16px;line-height:16px">11</div><div class="t" style="left:974.50px;top:119.00px;font-weight:bold;font-size:16px;line-height:16px">11</div><div class="t" style="left:481.00px;top:136.00px;font-weight:bold;font-size:16px;line-height:16px">10</div><div class="t" style="left:974.50px;top:136.00px;font-weight:bold;font-size:16px;line-height:16px">10</div><div class="t" style="left:488.00px;top:153.00px;font-weight:bold;font-size:16px;line-height:16px">9</div><div class="t" style="left:973.50px;top:153.00px;font-weight:bold;font-size:16px;line-height:16px">9</div><div class="t" style="left:488.00px;top:170.00px;font-weight:bold;font-size:16px;line-height:16px">8</div><div class="t" style="left:974.50px;top:170.00px;font-weight:bold;font-size:16px;line-height:16px">8</div><div class="t" style="left:488.00px;top:187.00px;font-weight:bold;font-size:16px;line-height:16px">7</div><div class="t" style="left:973.50px;top:187.00px;font-weight:bold;font-size:16px;line-height:16px">7</div><div class="t" style="left:488.00px;top:204.00px;font-weight:bold;font-size:16px;line-height:16px">6</div><div class="t" style="left:973.50px;top:204.00px;font-weight:bold;font-size:16px;line-height:16px">6</div><div class="t" style="left:488.00px;top:221.00px;font-weight:bold;font-size:16px;line-height:16px">5</div><div class="t" style="left:973.50px;top:221.00px;font-weight:bold;font-size:16px;line-height:16px">5</div><div class="t" style="left:487.00px;top:238.00px;font-weight:bold;font-size:16px;line-height:16px">4</div><div class="t" style="left:974.50px;top:238.00px;font-weight:bold;font-size:16px;line-height:16px">4</div><div class="t" style="left:488.00px;top:255.00px;font-weight:bold;font-size:16px;line-height:16px">3</div><div class="t" style="left:974.50px;top:255.00px;font-weight:bold;font-size:16px;line-height:16px">3</div><div class="t" style="left:488.00px;top:272.00px;font-weight:bold;font-size:16px;line-height:16px">2</div><div class="t" style="left:974.50px;top:272.00px;font-weight:bold;font-size:16px;line-height:16px">2</div><div class="t" style="left:487.00px;top:289.00px;font-weight:bold;font-size:16px;line-height:16px">1</div><div class="t" style="left:973.50px;top:289.00px;font-weight:bold;font-size:16px;line-height:16px">1</div><div class="t" style="left:471.50px;top:350.20px;font-weight:bold;font-size:16px;line-height:16px">G</div><div class="t" style="left:994.30px;top:350.20px;font-weight:bold;font-size:16px;line-height:16px">G</div><div class="t" style="left:471.50px;top:366.90px;font-weight:bold;font-size:16px;line-height:16px">F</div><div class="t" style="left:994.30px;top:366.90px;font-weight:bold;font-size:16px;line-height:16px">F</div><div class="t" style="left:471.50px;top:383.90px;font-weight:bold;font-size:16px;line-height:16px">E</div><div class="t" style="left:994.30px;top:383.90px;font-weight:bold;font-size:16px;line-height:16px">E</div><div class="t" style="left:471.50px;top:400.90px;font-weight:bold;font-size:16px;line-height:16px">D</div><div class="t" style="left:994.30px;top:400.90px;font-weight:bold;font-size:16px;line-height:16px">D</div><div class="t" style="left:471.50px;top:418.20px;font-weight:bold;font-size:16px;line-height:16px">C</div><div class="t" style="left:994.30px;top:418.20px;font-weight:bold;font-size:16px;line-height:16px">C</div><div class="t" style="left:471.50px;top:434.90px;font-weight:bold;font-size:16px;line-height:16px">B</div><div class="t" style="left:994.30px;top:434.90px;font-weight:bold;font-size:16px;line-height:16px">B</div><div class="t" style="left:472.50px;top:451.90px;font-weight:bold;font-size:16px;line-height:16px">A</div><div class="t" style="left:995.30px;top:451.90px;font-weight:bold;font-size:16px;line-height:16px">A</div><div class="t" style="left:506.10px;top:301.60px;font-weight:normal;font-size:34.5px;line-height:34.5px;-webkit-text-stroke:1px #000;transform:scaleX(0.952)">K</div><div class="t" style="left:729.82px;top:316.20px;font-weight:normal;font-size:34.5px;line-height:34.5px;-webkit-text-stroke:1px #000;transform:scaleX(0.839)">F</div><div class="t" style="left:950.19px;top:302.60px;font-weight:normal;font-size:34.5px;line-height:34.5px;-webkit-text-stroke:1px #000;transform:scaleX(0.905)">K</div><div class="t" style="left:1001.24px;top:303.60px;font-weight:normal;font-size:34.5px;line-height:34.5px;-webkit-text-stroke:1px #000;transform:scaleX(0.882)">L</div><div class="t" style="left:1341.12px;top:304.10px;font-weight:normal;font-size:34.5px;line-height:34.5px;-webkit-text-stroke:1px #000;transform:scaleX(0.941)">L</div><div class="t" style="left:1408.16px;top:304.30px;font-weight:normal;font-size:34.5px;line-height:34.5px;-webkit-text-stroke:1px #000;transform:scaleX(0.920)">M</div><div class="t" style="left:65.18px;top:435.60px;font-weight:normal;font-size:34.5px;line-height:34.5px;-webkit-text-stroke:1px #000;transform:scaleX(0.909)">D</div><div class="t" style="left:1393.19px;top:435.60px;font-weight:normal;font-size:34.5px;line-height:34.5px;-webkit-text-stroke:1px #000;transform:scaleX(0.905)">H</div><div class="t" style="left:493.40px;top:465.60px;font-weight:normal;font-size:34.5px;line-height:34.5px;-webkit-text-stroke:1px #000;transform:scaleX(0.800)">E</div><div class="t" style="left:965.08px;top:467.60px;font-weight:normal;font-size:34.5px;line-height:34.5px;-webkit-text-stroke:1px #000;transform:scaleX(0.917)">G</div><div class="t" style="left:711.20px;top:510.60px;font-weight:normal;font-size:34.5px;line-height:34.5px;-webkit-text-stroke:1px #000;transform:scaleX(0.899)">FOH</div><div class="t" style="left:650.90px;top:682.20px;font-weight:normal;font-size:32.5px;line-height:32.5px;-webkit-text-stroke:0.8px #000;letter-spacing:1px;transform:scaleX(1.050)">B svæði / Stæði</div><div class="t" style="left:1411.05px;top:506.20px;font-weight:bold;font-size:17px;line-height:17px;letter-spacing:0.6px;transform:scaleX(0.950)">1. hæð 2. hæð</div><div class="k" style="left:45px;top:308px;width:10px;height:4px"></div><div class="k" style="left:48px;top:311px;width:4px;height:19px"></div><div class="k" style="left:45px;top:329px;width:10px;height:3px"></div><div class="k" style="left:117px;top:307px;width:9px;height:4px"></div><div class="j" style="left:114px;top:307px"></div><div class="k" style="left:449px;top:308px;width:9px;height:4px"></div><div class="j" style="left:446px;top:308px"></div>
</div></body></html>
